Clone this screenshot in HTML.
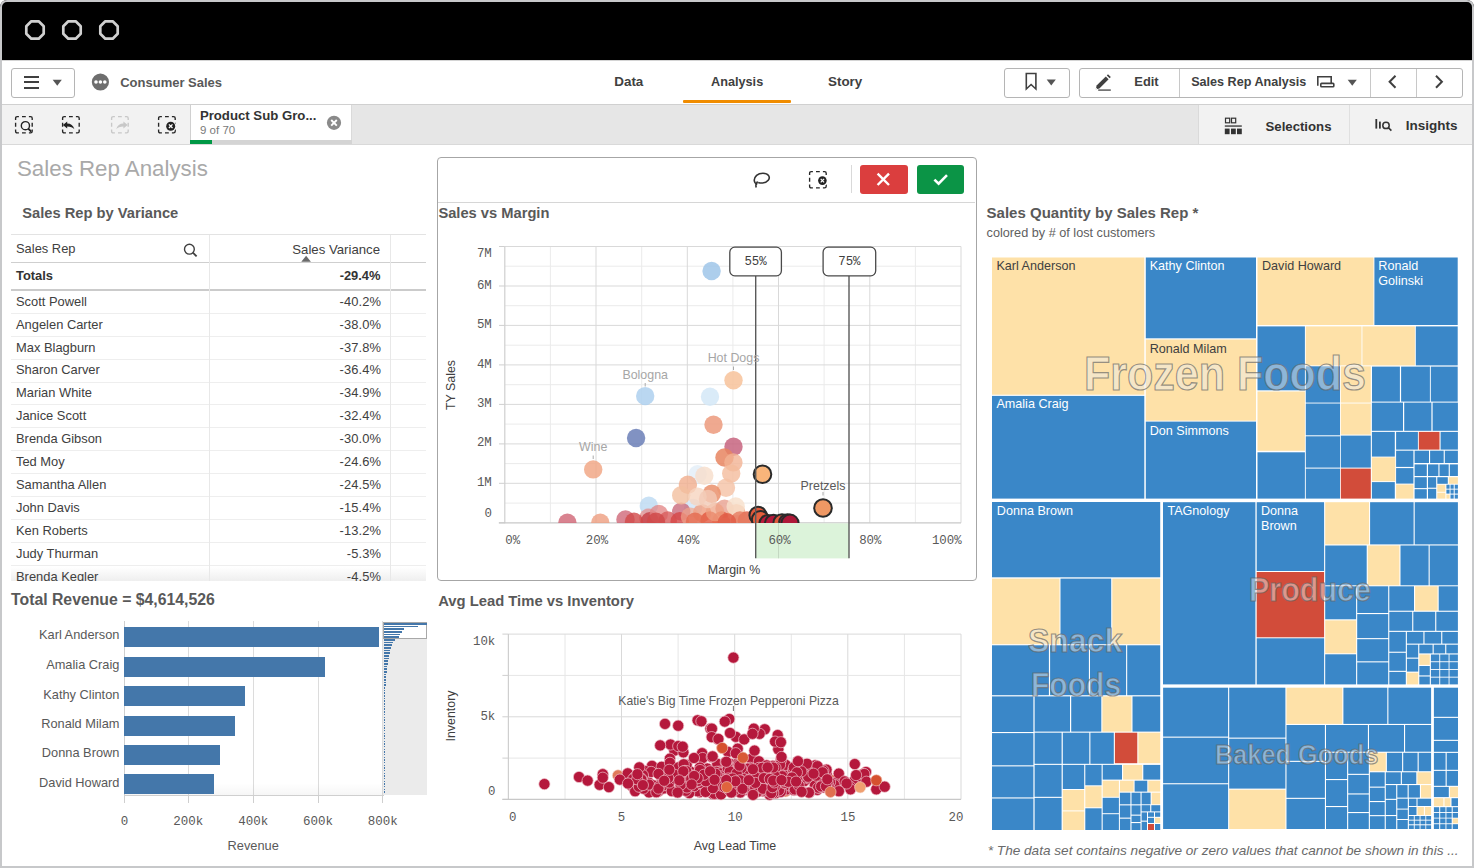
<!DOCTYPE html><html><head><meta charset="utf-8"><title>Sales Rep Analysis</title><style>
html,body{margin:0;padding:0;}
body{width:1474px;height:868px;overflow:hidden;background:#fff;position:relative;font-family:"Liberation Sans", sans-serif;}
.t{position:absolute;white-space:nowrap;line-height:1;font-family:"Liberation Sans", sans-serif;}
.r{position:absolute;box-sizing:border-box;}
svg{position:absolute;overflow:visible;}

</style></head><body>
<div class="r" style="left:0.0px;top:0.0px;width:1474.0px;height:60.0px;background:#000;border-radius:7px 7px 0 0;"></div>
<div class="r" style="left:0.0px;top:60.0px;width:1474.0px;height:1.0px;background:#d4d4d4;"></div>
<svg style="left:0;top:0" width="150" height="60"><polygon points="31.30,21.30 38.70,21.30 43.70,26.30 43.70,33.70 38.70,38.70 31.30,38.70 26.30,33.70 26.30,26.30" fill="none" stroke="#d0d0d0" stroke-width="2.7" stroke-linejoin="round"/><polygon points="68.30,21.30 75.70,21.30 80.70,26.30 80.70,33.70 75.70,38.70 68.30,38.70 63.30,33.70 63.30,26.30" fill="none" stroke="#d0d0d0" stroke-width="2.7" stroke-linejoin="round"/><polygon points="105.30,21.30 112.70,21.30 117.70,26.30 117.70,33.70 112.70,38.70 105.30,38.70 100.30,33.70 100.30,26.30" fill="none" stroke="#d0d0d0" stroke-width="2.7" stroke-linejoin="round"/></svg>
<div class="r" style="left:0.0px;top:61.0px;width:1474.0px;height:43.0px;background:#fff;"></div>
<div class="r" style="left:0.0px;top:104.0px;width:1474.0px;height:1.0px;background:#d0d0d0;"></div>
<div class="r" style="left:11.0px;top:68.0px;width:64.0px;height:29.5px;border:1px solid #b5b5b5;border-radius:3px;background:#fff;"></div>
<div class="r" style="left:23.6px;top:76.0px;width:15.6px;height:2.0px;background:#404040;"></div>
<div class="r" style="left:23.6px;top:81.4px;width:15.6px;height:2.0px;background:#404040;"></div>
<div class="r" style="left:23.6px;top:86.8px;width:15.6px;height:2.0px;background:#404040;"></div>
<svg style="left:52px;top:79px" width="12" height="8"><path d="M0.7 0.7 L9.8 0.7 L5.25 6.8 Z" fill="#555"/></svg>
<svg style="left:91px;top:73px" width="20" height="20"><circle cx="9.4" cy="9" r="8.6" fill="#6e6e6e"/><circle cx="5" cy="9" r="1.8" fill="#fff"/><circle cx="9.4" cy="9" r="1.8" fill="#fff"/><circle cx="13.8" cy="9" r="1.8" fill="#fff"/></svg>
<div class="t" style="left:120.2px;top:76.0px;font-size:13px;color:#595959;font-weight:bold;font-style:normal;">Consumer Sales</div>
<div class="t" style="left:614.3px;top:75.0px;font-size:13.4px;color:#404040;font-weight:bold;font-style:normal;">Data</div>
<div class="t" style="left:711.0px;top:75.5px;font-size:12.7px;color:#404040;font-weight:bold;font-style:normal;">Analysis</div>
<div class="t" style="left:828.0px;top:75.0px;font-size:13.4px;color:#404040;font-weight:bold;font-style:normal;">Story</div>
<div class="r" style="left:683.2px;top:100.0px;width:107.5px;height:2.8px;background:#f08c00;border-radius:1px;"></div>
<div class="r" style="left:1004.0px;top:68.0px;width:66.0px;height:29.5px;border:1px solid #b5b5b5;border-radius:3px;background:#fff;"></div>
<svg style="left:1024px;top:72px" width="16" height="20"><path d="M2.3 1.5 L11.9 1.5 L11.9 17 L7.1 12.5 L2.3 17 Z" fill="none" stroke="#404040" stroke-width="1.6" stroke-linejoin="miter"/></svg>
<svg style="left:1046px;top:79px" width="12" height="8"><path d="M0.7 0.5 L9.8 0.5 L5.25 6.5 Z" fill="#555"/></svg>
<div class="r" style="left:1079.0px;top:68.0px;width:383.5px;height:29.5px;border:1px solid #b5b5b5;border-radius:3px;background:#fff;"></div>
<div class="r" style="left:1179.4px;top:69.0px;width:1.0px;height:27.5px;background:#c8c8c8;"></div>
<div class="r" style="left:1369.6px;top:69.0px;width:1.0px;height:27.5px;background:#c8c8c8;"></div>
<div class="r" style="left:1416.4px;top:69.0px;width:1.0px;height:27.5px;background:#c8c8c8;"></div>
<svg style="left:1093px;top:73px" width="20" height="20"><path d="M2.6 16.4 L3.6 12.6 L12.8 3.4 L15.6 6.2 L6.4 15.4 Z" fill="#404040"/><path d="M13.8 2.4 L15 1.2 L17.8 4 L16.6 5.2 Z" fill="#404040"/><path d="M2.2 17 L3 14.6 L4.6 16.2 Z" fill="#fff"/><rect x="5.2" y="16.3" width="12.6" height="1.6" fill="#666"/></svg>
<div class="t" style="left:1134.3px;top:75.7px;font-size:12.9px;color:#404040;font-weight:bold;font-style:normal;">Edit</div>
<div class="t" style="left:1191.2px;top:75.9px;font-size:12.6px;color:#404040;font-weight:bold;font-style:normal;">Sales Rep Analysis</div>
<svg style="left:1316px;top:75px" width="20" height="14"><path d="M1.8 10.8 L1.8 1.8 L15.2 1.8 L15.2 8.6" fill="none" stroke="#404040" stroke-width="1.6"/><rect x="4.8" y="8.4" width="13" height="3.4" rx="0.8" fill="none" stroke="#404040" stroke-width="1.6"/></svg>
<svg style="left:1347px;top:79px" width="12" height="8"><path d="M0.7 0.7 L9.8 0.7 L5.25 6.8 Z" fill="#555"/></svg>
<svg style="left:1386px;top:74px" width="14" height="16"><path d="M9.5 1.8 L3.6 7.8 L9.5 13.8" fill="none" stroke="#404040" stroke-width="2"/></svg>
<svg style="left:1433px;top:74px" width="14" height="16"><path d="M3 1.8 L8.9 7.8 L3 13.8" fill="none" stroke="#404040" stroke-width="2"/></svg>
<div class="r" style="left:0.0px;top:105.0px;width:1474.0px;height:39.0px;background:#e6e6e6;"></div>
<div class="r" style="left:0.0px;top:105.0px;width:190.0px;height:39.0px;background:#f2f2f2;"></div>
<div class="r" style="left:190.0px;top:105.0px;width:162.0px;height:39.0px;background:#fff;border-left:1px solid #d0d0d0;border-right:1px solid #dadada;"></div>
<div class="r" style="left:1198.0px;top:105.0px;width:276.0px;height:39.0px;background:#f2f2f2;border-left:1px solid #dadada;"></div>
<div class="r" style="left:1349.0px;top:105.0px;width:1.0px;height:39.0px;background:#e0e0e0;"></div>
<div class="r" style="left:0.0px;top:144.0px;width:1474.0px;height:1.0px;background:#d9d9d9;"></div>
<svg style="left:14.2px;top:115px" width="20" height="20"><path d="M1.6 4.9 L1.6 3.2 Q1.6 1.6 3.2 1.6 L4.9 1.6 M14.9 1.6 L16.599999999999998 1.6 Q18.2 1.6 18.2 3.2 L18.2 4.9 M18.2 14.6 L18.2 16.299999999999997 Q18.2 17.9 16.599999999999998 17.9 L14.9 17.9 M4.9 17.9 L3.2 17.9 Q1.6 17.9 1.6 16.299999999999997 L1.6 14.6 M8.0 1.6 L11.8 1.6 M8.0 17.9 L11.8 17.9 M1.6 7.85 L1.6 11.65 M18.2 7.85 L18.2 11.65" fill="none" stroke="#262626" stroke-width="1.35"/><circle cx="11.4" cy="10.7" r="4.1" fill="none" stroke="#222" stroke-width="1.4"/><path d="M14.3 13.6 L17.2 16.6" stroke="#222" stroke-width="1.9"/></svg>
<svg style="left:61.2px;top:115px" width="20" height="20"><path d="M1.6 4.9 L1.6 3.2 Q1.6 1.6 3.2 1.6 L4.9 1.6 M14.9 1.6 L16.599999999999998 1.6 Q18.2 1.6 18.2 3.2 L18.2 4.9 M18.2 14.6 L18.2 16.299999999999997 Q18.2 17.9 16.599999999999998 17.9 L14.9 17.9 M4.9 17.9 L3.2 17.9 Q1.6 17.9 1.6 16.299999999999997 L1.6 14.6 M8.0 1.6 L11.8 1.6 M8.0 17.9 L11.8 17.9 M1.6 7.85 L1.6 11.65 M18.2 7.85 L18.2 11.65" fill="none" stroke="#262626" stroke-width="1.35"/><path d="M1.9 9.9 L6.2 6.4 L6.2 8.4 C9.8 8.4 12.4 10.4 13.4 14.2 C11.6 12.2 9.6 11.4 6.2 11.4 L6.2 13.4 Z" fill="#222"/></svg>
<svg style="left:109.5px;top:115px" width="20" height="20"><path d="M1.6 4.9 L1.6 3.2 Q1.6 1.6 3.2 1.6 L4.9 1.6 M14.9 1.6 L16.599999999999998 1.6 Q18.2 1.6 18.2 3.2 L18.2 4.9 M18.2 14.6 L18.2 16.299999999999997 Q18.2 17.9 16.599999999999998 17.9 L14.9 17.9 M4.9 17.9 L3.2 17.9 Q1.6 17.9 1.6 16.299999999999997 L1.6 14.6 M8.0 1.6 L11.8 1.6 M8.0 17.9 L11.8 17.9 M1.6 7.85 L1.6 11.65 M18.2 7.85 L18.2 11.65" fill="none" stroke="#c8c8c8" stroke-width="1.35"/><path d="M17.7 9.9 L13.4 6.4 L13.4 8.4 C9.8 8.4 7.2 10.4 6.2 14.2 C8 12.2 10 11.4 13.4 11.4 L13.4 13.4 Z" fill="#c8c8c8"/></svg>
<svg style="left:157px;top:115px" width="20" height="20"><path d="M1.6 4.9 L1.6 3.2 Q1.6 1.6 3.2 1.6 L4.9 1.6 M14.9 1.6 L16.599999999999998 1.6 Q18.2 1.6 18.2 3.2 L18.2 4.9 M18.2 14.6 L18.2 16.299999999999997 Q18.2 17.9 16.599999999999998 17.9 L14.9 17.9 M4.9 17.9 L3.2 17.9 Q1.6 17.9 1.6 16.299999999999997 L1.6 14.6 M8.0 1.6 L11.8 1.6 M8.0 17.9 L11.8 17.9 M1.6 7.85 L1.6 11.65 M18.2 7.85 L18.2 11.65" fill="none" stroke="#262626" stroke-width="1.35"/><circle cx="13.7" cy="11.2" r="5.6" fill="#f2f2f2"/><circle cx="13.7" cy="11.2" r="4.5" fill="#222"/><path d="M11.9 9.4 L15.5 13 M15.5 9.4 L11.9 13" stroke="#fff" stroke-width="1.3"/></svg>
<div class="t" style="left:199.9px;top:109.4px;font-size:13.2px;color:#333;font-weight:bold;font-style:normal;">Product Sub Gro...</div>
<div class="t" style="left:200.0px;top:125.4px;font-size:11.5px;color:#7a7a7a;font-weight:normal;font-style:normal;">9 of 70</div>
<svg style="left:326px;top:115px" width="16" height="16"><circle cx="8" cy="7.8" r="7.1" fill="#8a8a8a"/><path d="M5.2 5 L10.8 10.6 M10.8 5 L5.2 10.6" stroke="#fff" stroke-width="1.9"/></svg>
<div class="r" style="left:190.0px;top:140.0px;width:162.0px;height:4.0px;background:#d4d4d4;"></div>
<div class="r" style="left:190.0px;top:140.0px;width:22.0px;height:4.0px;background:#009845;"></div>
<svg style="left:1224px;top:117px" width="20" height="20"><rect x="1.5" y="1.2" width="4.2" height="4.6" fill="none" stroke="#333" stroke-width="1.2"/><rect x="7.5" y="1.2" width="4.2" height="4.6" fill="none" stroke="#333" stroke-width="1.2"/><rect x="0.8" y="8.4" width="17" height="1.3" fill="#333"/><rect x="0.8" y="11.6" width="4.8" height="5.6" fill="#333"/><rect x="7" y="11.6" width="4.8" height="5.6" fill="#333"/><rect x="13" y="11.6" width="4.8" height="5.6" fill="#333"/></svg>
<div class="t" style="left:1265.5px;top:119.7px;font-size:13.2px;color:#333;font-weight:bold;font-style:normal;">Selections</div>
<svg style="left:1374px;top:117px" width="20" height="16"><rect x="1.4" y="2" width="1.8" height="9.6" fill="#333"/><rect x="5" y="4.6" width="1.8" height="7" fill="#333"/><circle cx="12" cy="8.4" r="3.2" fill="none" stroke="#333" stroke-width="1.5"/><path d="M14.3 10.7 L17.4 13.6" stroke="#333" stroke-width="1.6"/></svg>
<div class="t" style="left:1405.8px;top:118.7px;font-size:13.5px;color:#333;font-weight:bold;font-style:normal;">Insights</div>
<div class="t" style="left:17.0px;top:158.3px;font-size:22.3px;color:#a9a9a9;font-weight:normal;font-style:normal;">Sales Rep Analysis</div>
<div class="t" style="left:22.3px;top:205.9px;font-size:14.7px;color:#595959;font-weight:bold;font-style:normal;">Sales Rep by Variance</div>
<div class="r" style="left:11.0px;top:234.0px;width:415.0px;height:1.0px;background:#e3e3e3;"></div>
<div class="t" style="left:16.0px;top:243.0px;font-size:12.9px;color:#404040;font-weight:normal;font-style:normal;">Sales Rep</div>
<svg style="left:182px;top:242px" width="18" height="18"><circle cx="7.4" cy="7.2" r="4.9" fill="none" stroke="#404040" stroke-width="1.4"/><path d="M10.9 10.7 L14.6 14.4" stroke="#404040" stroke-width="1.8"/></svg>
<div class="t" style="right:1094.0px;top:242.7px;font-size:13.2px;color:#404040;font-weight:normal;font-style:normal;">Sales Variance</div>
<svg style="left:301px;top:255px" width="12" height="8"><path d="M0.3 6.8 L9.9 6.8 L5.1 0.8 Z" fill="#6a6a6a"/></svg>
<div class="r" style="left:11.0px;top:262.0px;width:415.0px;height:1.0px;background:#cfcfcf;"></div>
<div class="t" style="left:16.0px;top:269.9px;font-size:12.9px;color:#333;font-weight:bold;font-style:normal;">Totals</div>
<div class="t" style="right:1093.5px;top:269.9px;font-size:12.9px;color:#333;font-weight:bold;font-style:normal;">-29.4%</div>
<div class="r" style="left:11.0px;top:289.2px;width:415.0px;height:1.6px;background:#cbcbcb;"></div>
<div class="r" style="left:11.0px;top:567.0px;width:415.0px;height:13.5px;background:linear-gradient(rgba(255,255,255,0),rgba(225,225,225,0.55));"></div>
<div style="position:absolute;left:0;top:0;width:1474px;height:580.5px;overflow:hidden;">
<div class="t" style="left:16.0px;top:295.6px;font-size:12.9px;color:#404040;font-weight:normal;font-style:normal;">Scott Powell</div>
<div class="t" style="right:1093.0px;top:295.6px;font-size:12.9px;color:#404040;font-weight:normal;font-style:normal;letter-spacing:0.1px;">-40.2%</div>
<div class="r" style="left:11.0px;top:312.6px;width:415.0px;height:1.0px;background:#eeeeee;"></div>
<div class="t" style="left:16.0px;top:318.5px;font-size:12.9px;color:#404040;font-weight:normal;font-style:normal;">Angelen Carter</div>
<div class="t" style="right:1093.0px;top:318.5px;font-size:12.9px;color:#404040;font-weight:normal;font-style:normal;letter-spacing:0.1px;">-38.0%</div>
<div class="r" style="left:11.0px;top:335.6px;width:415.0px;height:1.0px;background:#eeeeee;"></div>
<div class="t" style="left:16.0px;top:341.5px;font-size:12.9px;color:#404040;font-weight:normal;font-style:normal;">Max Blagburn</div>
<div class="t" style="right:1093.0px;top:341.5px;font-size:12.9px;color:#404040;font-weight:normal;font-style:normal;letter-spacing:0.1px;">-37.8%</div>
<div class="r" style="left:11.0px;top:358.5px;width:415.0px;height:1.0px;background:#eeeeee;"></div>
<div class="t" style="left:16.0px;top:364.4px;font-size:12.9px;color:#404040;font-weight:normal;font-style:normal;">Sharon Carver</div>
<div class="t" style="right:1093.0px;top:364.4px;font-size:12.9px;color:#404040;font-weight:normal;font-style:normal;letter-spacing:0.1px;">-36.4%</div>
<div class="r" style="left:11.0px;top:381.5px;width:415.0px;height:1.0px;background:#eeeeee;"></div>
<div class="t" style="left:16.0px;top:387.4px;font-size:12.9px;color:#404040;font-weight:normal;font-style:normal;">Marian White</div>
<div class="t" style="right:1093.0px;top:387.4px;font-size:12.9px;color:#404040;font-weight:normal;font-style:normal;letter-spacing:0.1px;">-34.9%</div>
<div class="r" style="left:11.0px;top:404.4px;width:415.0px;height:1.0px;background:#eeeeee;"></div>
<div class="t" style="left:16.0px;top:410.3px;font-size:12.9px;color:#404040;font-weight:normal;font-style:normal;">Janice Scott</div>
<div class="t" style="right:1093.0px;top:410.3px;font-size:12.9px;color:#404040;font-weight:normal;font-style:normal;letter-spacing:0.1px;">-32.4%</div>
<div class="r" style="left:11.0px;top:427.4px;width:415.0px;height:1.0px;background:#eeeeee;"></div>
<div class="t" style="left:16.0px;top:433.3px;font-size:12.9px;color:#404040;font-weight:normal;font-style:normal;">Brenda Gibson</div>
<div class="t" style="right:1093.0px;top:433.3px;font-size:12.9px;color:#404040;font-weight:normal;font-style:normal;letter-spacing:0.1px;">-30.0%</div>
<div class="r" style="left:11.0px;top:450.3px;width:415.0px;height:1.0px;background:#eeeeee;"></div>
<div class="t" style="left:16.0px;top:456.2px;font-size:12.9px;color:#404040;font-weight:normal;font-style:normal;">Ted Moy</div>
<div class="t" style="right:1093.0px;top:456.2px;font-size:12.9px;color:#404040;font-weight:normal;font-style:normal;letter-spacing:0.1px;">-24.6%</div>
<div class="r" style="left:11.0px;top:473.2px;width:415.0px;height:1.0px;background:#eeeeee;"></div>
<div class="t" style="left:16.0px;top:479.2px;font-size:12.9px;color:#404040;font-weight:normal;font-style:normal;">Samantha Allen</div>
<div class="t" style="right:1093.0px;top:479.2px;font-size:12.9px;color:#404040;font-weight:normal;font-style:normal;letter-spacing:0.1px;">-24.5%</div>
<div class="r" style="left:11.0px;top:496.2px;width:415.0px;height:1.0px;background:#eeeeee;"></div>
<div class="t" style="left:16.0px;top:502.1px;font-size:12.9px;color:#404040;font-weight:normal;font-style:normal;">John Davis</div>
<div class="t" style="right:1093.0px;top:502.1px;font-size:12.9px;color:#404040;font-weight:normal;font-style:normal;letter-spacing:0.1px;">-15.4%</div>
<div class="r" style="left:11.0px;top:519.1px;width:415.0px;height:1.0px;background:#eeeeee;"></div>
<div class="t" style="left:16.0px;top:525.1px;font-size:12.9px;color:#404040;font-weight:normal;font-style:normal;">Ken Roberts</div>
<div class="t" style="right:1093.0px;top:525.1px;font-size:12.9px;color:#404040;font-weight:normal;font-style:normal;letter-spacing:0.1px;">-13.2%</div>
<div class="r" style="left:11.0px;top:542.1px;width:415.0px;height:1.0px;background:#eeeeee;"></div>
<div class="t" style="left:16.0px;top:548.0px;font-size:12.9px;color:#404040;font-weight:normal;font-style:normal;">Judy Thurman</div>
<div class="t" style="right:1093.0px;top:548.0px;font-size:12.9px;color:#404040;font-weight:normal;font-style:normal;letter-spacing:0.1px;">-5.3%</div>
<div class="r" style="left:11.0px;top:565.1px;width:415.0px;height:1.0px;background:#eeeeee;"></div>
<div class="t" style="left:16.0px;top:571.0px;font-size:12.9px;color:#404040;font-weight:normal;font-style:normal;">Brenda Kegler</div>
<div class="t" style="right:1093.0px;top:571.0px;font-size:12.9px;color:#404040;font-weight:normal;font-style:normal;letter-spacing:0.1px;">-4.5%</div>
</div>
<div class="r" style="left:209.0px;top:235.0px;width:1.0px;height:346.0px;background:#e8e8e8;"></div>
<div class="r" style="left:390.0px;top:235.0px;width:1.0px;height:346.0px;background:#e8e8e8;"></div>
<div class="t" style="left:11.0px;top:592.0px;font-size:15.8px;color:#595959;font-weight:bold;font-style:normal;">Total Revenue = $4,614,526</div>
<div class="r" style="left:187.8px;top:621.0px;width:1.0px;height:174.0px;background:#dcdcdc;"></div>
<div class="r" style="left:252.7px;top:621.0px;width:1.0px;height:174.0px;background:#dcdcdc;"></div>
<div class="r" style="left:317.5px;top:621.0px;width:1.0px;height:174.0px;background:#dcdcdc;"></div>
<div class="r" style="left:382.3px;top:621.0px;width:1.0px;height:174.0px;background:#dcdcdc;"></div>
<div class="r" style="left:123.5px;top:621.0px;width:1.0px;height:180.0px;background:#cfcfcf;"></div>
<div class="r" style="left:124.0px;top:783.0px;width:259.0px;height:12.0px;background:linear-gradient(rgba(0,0,0,0),rgba(0,0,0,0.035));"></div>
<div class="r" style="left:123.5px;top:795.0px;width:260.0px;height:1.0px;background:#cfcfcf;"></div>
<div class="r" style="left:124.0px;top:627.1px;width:254.5px;height:19.8px;background:#4477aa;"></div>
<div class="t" style="right:1354.6px;top:629.3px;font-size:12.8px;color:#595959;font-weight:normal;font-style:normal;">Karl Anderson</div>
<div class="r" style="left:124.0px;top:656.9px;width:201.4px;height:19.8px;background:#4477aa;"></div>
<div class="t" style="right:1354.6px;top:659.1px;font-size:12.8px;color:#595959;font-weight:normal;font-style:normal;">Amalia Craig</div>
<div class="r" style="left:124.0px;top:686.3px;width:120.8px;height:19.8px;background:#4477aa;"></div>
<div class="t" style="right:1354.6px;top:688.5px;font-size:12.8px;color:#595959;font-weight:normal;font-style:normal;">Kathy Clinton</div>
<div class="r" style="left:124.0px;top:715.8px;width:111.3px;height:19.8px;background:#4477aa;"></div>
<div class="t" style="right:1354.6px;top:718.0px;font-size:12.8px;color:#595959;font-weight:normal;font-style:normal;">Ronald Milam</div>
<div class="r" style="left:124.0px;top:745.1px;width:95.5px;height:19.8px;background:#4477aa;"></div>
<div class="t" style="right:1354.6px;top:747.3px;font-size:12.8px;color:#595959;font-weight:normal;font-style:normal;">Donna Brown</div>
<div class="r" style="left:124.0px;top:774.4px;width:90.3px;height:19.8px;background:#4477aa;"></div>
<div class="t" style="right:1354.6px;top:776.6px;font-size:12.8px;color:#595959;font-weight:normal;font-style:normal;">David Howard</div>
<div class="t" style="left:-175.6px;width:600px;text-align:center;top:816.2px;font-size:12.5px;color:#595959;font-weight:normal;font-style:normal;font-family:'Liberation Mono',monospace;">0</div>
<div class="t" style="left:-111.7px;width:600px;text-align:center;top:816.2px;font-size:12.5px;color:#595959;font-weight:normal;font-style:normal;font-family:'Liberation Mono',monospace;">200k</div>
<div class="t" style="left:-46.8px;width:600px;text-align:center;top:816.2px;font-size:12.5px;color:#595959;font-weight:normal;font-style:normal;font-family:'Liberation Mono',monospace;">400k</div>
<div class="t" style="left:18.0px;width:600px;text-align:center;top:816.2px;font-size:12.5px;color:#595959;font-weight:normal;font-style:normal;font-family:'Liberation Mono',monospace;">600k</div>
<div class="t" style="left:82.8px;width:600px;text-align:center;top:816.2px;font-size:12.5px;color:#595959;font-weight:normal;font-style:normal;font-family:'Liberation Mono',monospace;">800k</div>
<div class="r" style="left:123.5px;top:795.0px;width:1.0px;height:8.0px;background:#cfcfcf;"></div>
<div class="r" style="left:187.8px;top:795.0px;width:1.0px;height:8.0px;background:#cfcfcf;"></div>
<div class="r" style="left:252.7px;top:795.0px;width:1.0px;height:8.0px;background:#cfcfcf;"></div>
<div class="r" style="left:317.5px;top:795.0px;width:1.0px;height:8.0px;background:#cfcfcf;"></div>
<div class="r" style="left:382.3px;top:795.0px;width:1.0px;height:8.0px;background:#cfcfcf;"></div>
<div class="t" style="left:-46.8px;width:600px;text-align:center;top:839.7px;font-size:12.8px;color:#595959;font-weight:normal;font-style:normal;">Revenue</div>
<div class="r" style="left:383.0px;top:622.0px;width:44.0px;height:173.0px;background:#ebebeb;"></div>
<div class="r" style="left:383.0px;top:622.0px;width:44.0px;height:17.0px;background:#fff;border:1px solid #a8a8a8;"></div>
<div class="r" style="left:383.6px;top:623.0px;width:43.0px;height:1.6px;background:#4477aa;"></div>
<div class="r" style="left:383.6px;top:625.7px;width:34.0px;height:1.6px;background:#4477aa;"></div>
<div class="r" style="left:383.6px;top:628.3px;width:20.4px;height:1.6px;background:#4477aa;"></div>
<div class="r" style="left:383.6px;top:631.0px;width:18.8px;height:1.6px;background:#4477aa;"></div>
<div class="r" style="left:383.6px;top:633.7px;width:16.1px;height:1.6px;background:#4477aa;"></div>
<div class="r" style="left:383.6px;top:636.4px;width:15.3px;height:1.6px;background:#4477aa;"></div>
<div class="r" style="left:383.6px;top:639.0px;width:11.5px;height:1.6px;background:#4477aa;"></div>
<div class="r" style="left:383.6px;top:641.7px;width:9.5px;height:1.6px;background:#4477aa;"></div>
<div class="r" style="left:383.6px;top:644.4px;width:8.0px;height:1.6px;background:#4477aa;"></div>
<div class="r" style="left:383.6px;top:647.0px;width:7.0px;height:1.6px;background:#4477aa;"></div>
<div class="r" style="left:383.6px;top:649.7px;width:6.5px;height:1.6px;background:#4477aa;"></div>
<div class="r" style="left:383.6px;top:652.4px;width:6.0px;height:1.6px;background:#4477aa;"></div>
<div class="r" style="left:383.6px;top:655.0px;width:5.5px;height:1.6px;background:#4477aa;"></div>
<div class="r" style="left:383.6px;top:657.7px;width:5.0px;height:1.6px;background:#4477aa;"></div>
<div class="r" style="left:383.6px;top:660.4px;width:4.5px;height:1.6px;background:#4477aa;"></div>
<div class="r" style="left:383.6px;top:663.0px;width:4.0px;height:1.6px;background:#4477aa;"></div>
<div class="r" style="left:383.6px;top:665.7px;width:3.6px;height:1.6px;background:#4477aa;"></div>
<div class="r" style="left:383.6px;top:668.4px;width:3.2px;height:1.6px;background:#4477aa;"></div>
<div class="r" style="left:383.6px;top:671.1px;width:3.0px;height:1.6px;background:#4477aa;"></div>
<div class="r" style="left:383.6px;top:673.7px;width:2.8px;height:1.6px;background:#4477aa;"></div>
<div class="r" style="left:383.6px;top:676.4px;width:2.6px;height:1.6px;background:#4477aa;"></div>
<div class="r" style="left:383.6px;top:679.1px;width:2.4px;height:1.6px;background:#4477aa;"></div>
<div class="r" style="left:383.6px;top:681.7px;width:2.2px;height:1.6px;background:#4477aa;"></div>
<div class="r" style="left:383.6px;top:684.4px;width:2.0px;height:1.6px;background:#4477aa;"></div>
<div class="r" style="left:383.6px;top:687.1px;width:1.9px;height:1.6px;background:#4477aa;"></div>
<div class="r" style="left:383.6px;top:689.8px;width:1.8px;height:1.6px;background:#4477aa;"></div>
<div class="r" style="left:383.6px;top:692.4px;width:1.7px;height:1.6px;background:#4477aa;"></div>
<div class="r" style="left:383.6px;top:695.1px;width:1.6px;height:1.6px;background:#4477aa;"></div>
<div class="r" style="left:383.6px;top:697.8px;width:1.5px;height:1.6px;background:#4477aa;"></div>
<div class="r" style="left:383.6px;top:700.4px;width:1.4px;height:1.6px;background:#4477aa;"></div>
<div class="r" style="left:383.6px;top:703.1px;width:1.3px;height:1.6px;background:#4477aa;"></div>
<div class="r" style="left:383.6px;top:705.8px;width:1.2px;height:1.6px;background:#4477aa;"></div>
<div class="r" style="left:383.6px;top:708.4px;width:1.1px;height:1.6px;background:#4477aa;"></div>
<div class="r" style="left:383.6px;top:711.1px;width:1.1px;height:1.6px;background:#4477aa;"></div>
<div class="r" style="left:383.6px;top:713.8px;width:1.0px;height:1.6px;background:#4477aa;"></div>
<div class="r" style="left:383.6px;top:716.5px;width:0.9px;height:1.6px;background:#4477aa;"></div>
<div class="r" style="left:383.6px;top:719.1px;width:0.9px;height:1.6px;background:#4477aa;"></div>
<div class="r" style="left:383.6px;top:721.8px;width:0.9px;height:1.6px;background:#4477aa;"></div>
<div class="r" style="left:383.6px;top:724.5px;width:0.8px;height:1.6px;background:#4477aa;"></div>
<div class="r" style="left:383.6px;top:727.1px;width:0.8px;height:1.6px;background:#4477aa;"></div>
<div class="r" style="left:383.6px;top:729.8px;width:0.8px;height:1.6px;background:#4477aa;"></div>
<div class="r" style="left:383.6px;top:732.5px;width:0.8px;height:1.6px;background:#4477aa;"></div>
<div class="r" style="left:383.6px;top:735.1px;width:0.8px;height:1.6px;background:#4477aa;"></div>
<div class="r" style="left:383.6px;top:737.8px;width:0.7px;height:1.6px;background:#4477aa;"></div>
<div class="r" style="left:383.6px;top:740.5px;width:0.7px;height:1.6px;background:#4477aa;"></div>
<div class="r" style="left:383.6px;top:743.1px;width:0.7px;height:1.6px;background:#4477aa;"></div>
<div class="r" style="left:383.6px;top:745.8px;width:0.7px;height:1.6px;background:#4477aa;"></div>
<div class="r" style="left:383.6px;top:748.5px;width:0.7px;height:1.6px;background:#4477aa;"></div>
<div class="r" style="left:383.6px;top:751.2px;width:0.6px;height:1.6px;background:#4477aa;"></div>
<div class="r" style="left:383.6px;top:753.8px;width:0.6px;height:1.6px;background:#4477aa;"></div>
<div class="r" style="left:383.6px;top:756.5px;width:0.6px;height:1.6px;background:#4477aa;"></div>
<div class="r" style="left:383.6px;top:759.2px;width:0.6px;height:1.6px;background:#4477aa;"></div>
<div class="r" style="left:383.6px;top:761.8px;width:0.6px;height:1.6px;background:#4477aa;"></div>
<div class="r" style="left:383.6px;top:764.5px;width:0.6px;height:1.6px;background:#4477aa;"></div>
<div class="r" style="left:383.6px;top:767.2px;width:0.6px;height:1.6px;background:#4477aa;"></div>
<div class="r" style="left:383.6px;top:769.9px;width:0.5px;height:1.6px;background:#4477aa;"></div>
<div class="r" style="left:383.6px;top:772.5px;width:0.5px;height:1.6px;background:#4477aa;"></div>
<div class="r" style="left:383.6px;top:775.2px;width:0.5px;height:1.6px;background:#4477aa;"></div>
<div class="r" style="left:383.6px;top:777.9px;width:0.5px;height:1.6px;background:#4477aa;"></div>
<div class="r" style="left:383.6px;top:780.5px;width:0.5px;height:1.6px;background:#4477aa;"></div>
<div class="r" style="left:383.6px;top:783.2px;width:0.5px;height:1.6px;background:#4477aa;"></div>
<div class="r" style="left:383.6px;top:785.9px;width:0.5px;height:1.6px;background:#4477aa;"></div>
<div class="r" style="left:383.6px;top:788.5px;width:0.5px;height:1.6px;background:#4477aa;"></div>
<div class="r" style="left:383.6px;top:791.2px;width:0.5px;height:1.6px;background:#4477aa;"></div>
<div class="r" style="left:437.0px;top:157.0px;width:539.5px;height:424.0px;border:1.3px solid #a6a6a6;border-radius:4px;background:#fff;"></div>
<div class="r" style="left:438.0px;top:201.8px;width:537.0px;height:1.0px;background:#d6d6d6;"></div>
<svg style="left:751px;top:169px" width="22" height="22"><path d="M6.2 15.4 C2.6 13.8 2.2 9.6 5.6 6.4 C8.8 3.6 15.4 3.4 17.6 6.6 C19.6 9.6 16.6 13.6 11.6 14 C9.8 14.1 8.2 13.8 7.2 13.4" fill="none" stroke="#333" stroke-width="1.6"/><path d="M6.6 12.6 C5 14.6 4.4 16.4 5.2 18.6" fill="none" stroke="#333" stroke-width="1.6"/></svg>
<svg style="left:807.5px;top:170px" width="20" height="20"><path d="M1.6 4.9 L1.6 3.2 Q1.6 1.6 3.2 1.6 L4.9 1.6 M14.9 1.6 L16.599999999999998 1.6 Q18.2 1.6 18.2 3.2 L18.2 4.9 M18.2 14.6 L18.2 16.299999999999997 Q18.2 17.9 16.599999999999998 17.9 L14.9 17.9 M4.9 17.9 L3.2 17.9 Q1.6 17.9 1.6 16.299999999999997 L1.6 14.6 M8.0 1.6 L11.8 1.6 M8.0 17.9 L11.8 17.9 M1.6 7.85 L1.6 11.65 M18.2 7.85 L18.2 11.65" fill="none" stroke="#262626" stroke-width="1.35"/><circle cx="14.4" cy="10.6" r="5.5" fill="#fff"/><circle cx="14.4" cy="10.6" r="4.3" fill="#222"/><path d="M12.7 8.9 L16.1 12.3 M16.1 8.9 L12.7 12.3" stroke="#fff" stroke-width="1.2"/></svg>
<div class="r" style="left:850.5px;top:165.0px;width:1.0px;height:28.0px;background:#d9d9d9;"></div>
<div class="r" style="left:860.2px;top:164.8px;width:47.4px;height:28.9px;background:#db3e3e;border-radius:3px;"></div>
<svg style="left:875px;top:171px" width="18" height="18"><path d="M2.6 2.6 L14 14 M14 2.6 L2.6 14" stroke="#fff" stroke-width="2.4"/></svg>
<div class="r" style="left:917.0px;top:164.8px;width:47.3px;height:28.9px;background:#0b9446;border-radius:3px;"></div>
<svg style="left:932px;top:172px" width="18" height="16"><path d="M2.4 7.6 L6.6 11.6 L15 3.2" fill="none" stroke="#fff" stroke-width="2.6"/></svg>
<div class="t" style="left:438.4px;top:205.8px;font-size:14.7px;color:#595959;font-weight:bold;font-style:normal;">Sales vs Margin</div>
<svg style="left:0;top:0" width="1474" height="868"><line x1="550.4" y1="246.5" x2="550.4" y2="522.8" stroke="#ebebeb" stroke-width="1"/><line x1="641.7" y1="246.5" x2="641.7" y2="522.8" stroke="#ebebeb" stroke-width="1"/><line x1="732.9" y1="246.5" x2="732.9" y2="522.8" stroke="#ebebeb" stroke-width="1"/><line x1="824.1" y1="246.5" x2="824.1" y2="522.8" stroke="#ebebeb" stroke-width="1"/><line x1="915.4" y1="246.5" x2="915.4" y2="522.8" stroke="#ebebeb" stroke-width="1"/><line x1="504.8" y1="503.1" x2="961.0" y2="503.1" stroke="#ebebeb" stroke-width="1"/><line x1="504.8" y1="463.6" x2="961.0" y2="463.6" stroke="#ebebeb" stroke-width="1"/><line x1="504.8" y1="424.1" x2="961.0" y2="424.1" stroke="#ebebeb" stroke-width="1"/><line x1="504.8" y1="384.7" x2="961.0" y2="384.7" stroke="#ebebeb" stroke-width="1"/><line x1="504.8" y1="345.2" x2="961.0" y2="345.2" stroke="#ebebeb" stroke-width="1"/><line x1="504.8" y1="305.7" x2="961.0" y2="305.7" stroke="#ebebeb" stroke-width="1"/><line x1="504.8" y1="266.2" x2="961.0" y2="266.2" stroke="#ebebeb" stroke-width="1"/><line x1="596.0" y1="246.5" x2="596.0" y2="522.8" stroke="#d9d9d9" stroke-width="1"/><line x1="687.3" y1="246.5" x2="687.3" y2="522.8" stroke="#d9d9d9" stroke-width="1"/><line x1="778.5" y1="246.5" x2="778.5" y2="522.8" stroke="#d9d9d9" stroke-width="1"/><line x1="869.8" y1="246.5" x2="869.8" y2="522.8" stroke="#d9d9d9" stroke-width="1"/><line x1="961.0" y1="246.5" x2="961.0" y2="522.8" stroke="#d9d9d9" stroke-width="1"/><line x1="504.8" y1="483.3" x2="961.0" y2="483.3" stroke="#d9d9d9" stroke-width="1"/><line x1="504.8" y1="443.9" x2="961.0" y2="443.9" stroke="#d9d9d9" stroke-width="1"/><line x1="504.8" y1="404.4" x2="961.0" y2="404.4" stroke="#d9d9d9" stroke-width="1"/><line x1="504.8" y1="364.9" x2="961.0" y2="364.9" stroke="#d9d9d9" stroke-width="1"/><line x1="504.8" y1="325.4" x2="961.0" y2="325.4" stroke="#d9d9d9" stroke-width="1"/><line x1="504.8" y1="286.0" x2="961.0" y2="286.0" stroke="#d9d9d9" stroke-width="1"/><line x1="504.8" y1="246.5" x2="961.0" y2="246.5" stroke="#d9d9d9" stroke-width="1"/><line x1="499" y1="522.8" x2="504.8" y2="522.8" stroke="#cfcfcf" stroke-width="1"/><line x1="499" y1="483.3" x2="504.8" y2="483.3" stroke="#cfcfcf" stroke-width="1"/><line x1="499" y1="443.9" x2="504.8" y2="443.9" stroke="#cfcfcf" stroke-width="1"/><line x1="499" y1="404.4" x2="504.8" y2="404.4" stroke="#cfcfcf" stroke-width="1"/><line x1="499" y1="364.9" x2="504.8" y2="364.9" stroke="#cfcfcf" stroke-width="1"/><line x1="499" y1="325.4" x2="504.8" y2="325.4" stroke="#cfcfcf" stroke-width="1"/><line x1="499" y1="286.0" x2="504.8" y2="286.0" stroke="#cfcfcf" stroke-width="1"/><line x1="499" y1="246.5" x2="504.8" y2="246.5" stroke="#cfcfcf" stroke-width="1"/><line x1="504.8" y1="246.5" x2="504.8" y2="523.3" stroke="#cfcfcf" stroke-width="1.2"/><line x1="498.8" y1="522.8" x2="961.0" y2="522.8" stroke="#c8c8c8" stroke-width="1.2"/><rect x="755.7" y="523.4" width="93.3" height="35" fill="#dcf3da"/><defs><clipPath id="c1"><rect x="505" y="240" width="460" height="283"/></clipPath></defs><g clip-path="url(#c1)"><circle cx="567.4" cy="522.8" r="9.2" fill="#cf6474" fill-opacity="0.8"/><circle cx="600.3" cy="522.8" r="9.2" fill="#ee9e80" fill-opacity="0.8"/><circle cx="625.5" cy="519.4" r="9.2" fill="#cf6878" fill-opacity="0.8"/><circle cx="648.8" cy="505.7" r="9.2" fill="#bcd9f2" fill-opacity="0.8"/><circle cx="693.1" cy="507.9" r="9.2" fill="#cfe4f6" fill-opacity="0.8"/><circle cx="648.4" cy="517.8" r="9.2" fill="#e39494" fill-opacity="0.8"/><circle cx="649.9" cy="521.1999999999999" r="9.2" fill="#c63c44" fill-opacity="0.8"/><circle cx="658.8" cy="513.9" r="9.2" fill="#e28282" fill-opacity="0.75"/><circle cx="667.8" cy="520.4" r="9.2" fill="#d85c5c" fill-opacity="0.8"/><circle cx="681.2" cy="511.6" r="9.2" fill="#c96a7c" fill-opacity="0.8"/><circle cx="679.7" cy="521.1999999999999" r="9.2" fill="#d64646" fill-opacity="0.8"/><circle cx="702.1" cy="513.1" r="9.2" fill="#ef9c7e" fill-opacity="0.8"/><circle cx="709.6" cy="520.4" r="9.2" fill="#e2583f" fill-opacity="0.8"/><circle cx="724.5" cy="508.7" r="9.2" fill="#e9a08e" fill-opacity="0.8"/><circle cx="721.5" cy="520.4" r="9.2" fill="#e6664b" fill-opacity="0.8"/><circle cx="736.4" cy="513.1" r="9.2" fill="#f1ad8e" fill-opacity="0.8"/><circle cx="746.9" cy="520.4" r="9.2" fill="#e2664c" fill-opacity="0.85"/><circle cx="735.7" cy="506.4" r="9.2" fill="#f7e0cb" fill-opacity="0.8"/><circle cx="690" cy="516.8" r="9.2" fill="#f0a48a" fill-opacity="0.7"/><circle cx="715" cy="512" r="9.2" fill="#ee9f80" fill-opacity="0.7"/><circle cx="740" cy="520.4" r="9.2" fill="#e67a60" fill-opacity="0.8"/><circle cx="656" cy="521.8" r="9.2" fill="#d04a4a" fill-opacity="0.85"/><circle cx="634" cy="521.8" r="9.2" fill="#d14848" fill-opacity="0.8"/><circle cx="695" cy="521.8" r="9.2" fill="#e46a50" fill-opacity="0.8"/><circle cx="727" cy="522.3" r="9.2" fill="#e05a44" fill-opacity="0.8"/><circle cx="711.6" cy="271" r="9.2" fill="#9fc5e9" fill-opacity="0.85"/><circle cx="645.2" cy="396.1" r="9.2" fill="#aed0ef" fill-opacity="0.85"/><circle cx="710" cy="396.8" r="9.2" fill="#d4e7f7" fill-opacity="0.85"/><circle cx="636.1" cy="438" r="9.2" fill="#6b7fb7" fill-opacity="0.85"/><circle cx="733.5" cy="380.3" r="9.2" fill="#f7c29a" fill-opacity="0.85"/><circle cx="713.5" cy="424.8" r="9.2" fill="#ec9a7c" fill-opacity="0.85"/><circle cx="733.5" cy="446.8" r="9.2" fill="#c7647f" fill-opacity="0.85"/><circle cx="593.2" cy="469.4" r="9.2" fill="#f1a887" fill-opacity="0.85"/><circle cx="724.5" cy="457.5" r="9.2" fill="#e88560" fill-opacity="0.85"/><circle cx="733.4" cy="462.4" r="9.2" fill="#f2b393" fill-opacity="0.8"/><circle cx="731.2" cy="473.6" r="9.2" fill="#f4bb9c" fill-opacity="0.8"/><circle cx="697.6" cy="474.3" r="9.2" fill="#e2eef8" fill-opacity="0.8"/><circle cx="704.3" cy="475.8" r="9.2" fill="#f6ddcb" fill-opacity="0.8"/><circle cx="687.9" cy="484.8" r="9.2" fill="#f1ae8d" fill-opacity="0.8"/><circle cx="726" cy="487.8" r="9.2" fill="#f5c2a5" fill-opacity="0.8"/><circle cx="681.2" cy="495.2" r="9.2" fill="#f3bf9f" fill-opacity="0.8"/><circle cx="711.8" cy="493.7" r="9.2" fill="#ea916c" fill-opacity="0.85"/><circle cx="697.6" cy="496.7" r="9.2" fill="#f6d4bf" fill-opacity="0.8"/><circle cx="708" cy="499" r="9.2" fill="#f2cab6" fill-opacity="0.8"/><circle cx="758" cy="515.3" r="8.6" fill="#e0583a" stroke="#2a2a2a" stroke-width="2"/><circle cx="760.5" cy="519.6" r="8.6" fill="#e45e3c" stroke="#2a2a2a" stroke-width="2"/><circle cx="768" cy="523.5" r="8.6" fill="#b91a3a" stroke="#2a2a2a" stroke-width="2"/><circle cx="773.5" cy="523.3" r="8.6" fill="#b4173a" stroke="#2a2a2a" stroke-width="2"/><circle cx="782" cy="522.8" r="8.6" fill="#df583b" stroke="#2a2a2a" stroke-width="2"/><circle cx="787.5" cy="522.8" r="8.6" fill="#ae1838" stroke="#2a2a2a" stroke-width="2"/><circle cx="790" cy="523.2" r="8.6" fill="#ae1838" stroke="#2a2a2a" stroke-width="2"/></g><circle cx="762.5" cy="474.3" r="8.8" fill="#f8b47a" stroke="#2a2a2a" stroke-width="2"/><circle cx="823" cy="508" r="8.8" fill="#ef9864" stroke="#2a2a2a" stroke-width="2"/><line x1="778.5" y1="522.8" x2="778.5" y2="558.3" stroke="#c4d8c2" stroke-width="1"/><line x1="755.7" y1="276" x2="755.7" y2="558.3" stroke="#5a5a5a" stroke-width="1.4"/><line x1="849" y1="276" x2="849" y2="558.3" stroke="#5a5a5a" stroke-width="1.4"/><rect x="729.8" y="247.2" width="51.6" height="28.6" rx="5" fill="#fff" stroke="#4a4a4a" stroke-width="1.3"/><rect x="823.1" y="247.2" width="52.6" height="28.6" rx="5" fill="#fff" stroke="#4a4a4a" stroke-width="1.3"/><line x1="645.2" y1="383" x2="645.2" y2="386.5" stroke="#aaa" stroke-width="1"/><line x1="733.5" y1="366.5" x2="733.5" y2="370.0" stroke="#aaa" stroke-width="1"/><line x1="593.2" y1="455.5" x2="593.2" y2="459.0" stroke="#aaa" stroke-width="1"/><line x1="823" y1="492" x2="823" y2="495.5" stroke="#aaa" stroke-width="1"/></svg>
<div class="t" style="left:455.6px;width:600px;text-align:center;top:256.1px;font-size:12.4px;color:#404040;font-weight:normal;font-style:normal;font-family:'Liberation Mono',monospace;">55%</div>
<div class="t" style="left:549.4px;width:600px;text-align:center;top:256.1px;font-size:12.4px;color:#404040;font-weight:normal;font-style:normal;font-family:'Liberation Mono',monospace;">75%</div>
<div class="t" style="left:345.2px;width:600px;text-align:center;top:368.5px;font-size:12.4px;color:#a6a6a6;font-weight:normal;font-style:normal;">Bologna</div>
<div class="t" style="left:433.5px;width:600px;text-align:center;top:352.1px;font-size:12.4px;color:#a6a6a6;font-weight:normal;font-style:normal;">Hot Dogs</div>
<div class="t" style="left:293.2px;width:600px;text-align:center;top:441.1px;font-size:12.4px;color:#a6a6a6;font-weight:normal;font-style:normal;">Wine</div>
<div class="t" style="left:523.0px;width:600px;text-align:center;top:480.1px;font-size:12.4px;color:#595959;font-weight:normal;font-style:normal;">Pretzels</div>
<div class="t" style="right:982.2px;top:247.8px;font-size:12.4px;color:#595959;font-weight:normal;font-style:normal;font-family:'Liberation Mono',monospace;">7M</div>
<div class="t" style="right:982.2px;top:279.9px;font-size:12.4px;color:#595959;font-weight:normal;font-style:normal;font-family:'Liberation Mono',monospace;">6M</div>
<div class="t" style="right:982.2px;top:319.4px;font-size:12.4px;color:#595959;font-weight:normal;font-style:normal;font-family:'Liberation Mono',monospace;">5M</div>
<div class="t" style="right:982.2px;top:358.9px;font-size:12.4px;color:#595959;font-weight:normal;font-style:normal;font-family:'Liberation Mono',monospace;">4M</div>
<div class="t" style="right:982.2px;top:398.1px;font-size:12.4px;color:#595959;font-weight:normal;font-style:normal;font-family:'Liberation Mono',monospace;">3M</div>
<div class="t" style="right:982.2px;top:437.3px;font-size:12.4px;color:#595959;font-weight:normal;font-style:normal;font-family:'Liberation Mono',monospace;">2M</div>
<div class="t" style="right:982.2px;top:476.8px;font-size:12.4px;color:#595959;font-weight:normal;font-style:normal;font-family:'Liberation Mono',monospace;">1M</div>
<div class="t" style="right:982.2px;top:508.2px;font-size:12.4px;color:#595959;font-weight:normal;font-style:normal;font-family:'Liberation Mono',monospace;">0</div>
<div class="t" style="left:212.8px;width:600px;text-align:center;top:535.3px;font-size:12.4px;color:#595959;font-weight:normal;font-style:normal;font-family:'Liberation Mono',monospace;">0%</div>
<div class="t" style="left:297.0px;width:600px;text-align:center;top:535.3px;font-size:12.4px;color:#595959;font-weight:normal;font-style:normal;font-family:'Liberation Mono',monospace;">20%</div>
<div class="t" style="left:388.2px;width:600px;text-align:center;top:535.3px;font-size:12.4px;color:#595959;font-weight:normal;font-style:normal;font-family:'Liberation Mono',monospace;">40%</div>
<div class="t" style="left:479.6px;width:600px;text-align:center;top:535.3px;font-size:12.4px;color:#595959;font-weight:normal;font-style:normal;font-family:'Liberation Mono',monospace;">60%</div>
<div class="t" style="left:570.3px;width:600px;text-align:center;top:535.3px;font-size:12.4px;color:#595959;font-weight:normal;font-style:normal;font-family:'Liberation Mono',monospace;">80%</div>
<div class="t" style="left:646.8px;width:600px;text-align:center;top:535.3px;font-size:12.4px;color:#595959;font-weight:normal;font-style:normal;font-family:'Liberation Mono',monospace;">100%</div>
<div class="t" style="left:434.0px;width:600px;text-align:center;top:563.5px;font-size:12.4px;color:#404040;font-weight:normal;font-style:normal;">Margin %</div>
<div class="t" style="left:410.5px;top:377.8px;width:80px;text-align:center;font-size:12.4px;line-height:14px;color:#404040;transform:rotate(-90deg);">TY Sales</div>
<div class="t" style="left:438.2px;top:593.7px;font-size:14.8px;color:#595959;font-weight:bold;font-style:normal;">Avg Lead Time vs Inventory</div>
<svg style="left:0;top:0" width="1474" height="868"><line x1="565.0" y1="634.1" x2="565.0" y2="799.4" stroke="#e6e6e6" stroke-width="1"/><line x1="621.5" y1="634.1" x2="621.5" y2="799.4" stroke="#d9d9d9" stroke-width="1"/><line x1="678.1" y1="634.1" x2="678.1" y2="799.4" stroke="#e6e6e6" stroke-width="1"/><line x1="734.7" y1="634.1" x2="734.7" y2="799.4" stroke="#d9d9d9" stroke-width="1"/><line x1="791.3" y1="634.1" x2="791.3" y2="799.4" stroke="#e6e6e6" stroke-width="1"/><line x1="847.8" y1="634.1" x2="847.8" y2="799.4" stroke="#d9d9d9" stroke-width="1"/><line x1="904.4" y1="634.1" x2="904.4" y2="799.4" stroke="#e6e6e6" stroke-width="1"/><line x1="961.0" y1="634.1" x2="961.0" y2="799.4" stroke="#d9d9d9" stroke-width="1"/><line x1="508.4" y1="758.1" x2="961.0" y2="758.1" stroke="#e6e6e6" stroke-width="1"/><line x1="508.4" y1="716.8" x2="961.0" y2="716.8" stroke="#d9d9d9" stroke-width="1"/><line x1="508.4" y1="675.4" x2="961.0" y2="675.4" stroke="#e6e6e6" stroke-width="1"/><line x1="508.4" y1="634.1" x2="961.0" y2="634.1" stroke="#d9d9d9" stroke-width="1"/><line x1="508.4" y1="634.1" x2="508.4" y2="799.4" stroke="#cfcfcf" stroke-width="1.2"/><line x1="502.4" y1="799.4" x2="508.4" y2="799.4" stroke="#cfcfcf" stroke-width="1"/><line x1="502.4" y1="758.1" x2="508.4" y2="758.1" stroke="#cfcfcf" stroke-width="1"/><line x1="502.4" y1="716.8" x2="508.4" y2="716.8" stroke="#cfcfcf" stroke-width="1"/><line x1="502.4" y1="675.4" x2="508.4" y2="675.4" stroke="#cfcfcf" stroke-width="1"/><line x1="502.4" y1="634.1" x2="508.4" y2="634.1" stroke="#cfcfcf" stroke-width="1"/><line x1="502.4" y1="799.4" x2="961.0" y2="799.4" stroke="#c8c8c8" stroke-width="1.2"/><circle cx="722.2" cy="748.0" r="5.6" fill="#d6512f" stroke="#f5d7cc" stroke-width="0.6"/><circle cx="742.9" cy="757.7" r="5.6" fill="#d85a36" stroke="#f5d7cc" stroke-width="0.6"/><circle cx="876.3" cy="780.3" r="5.6" fill="#d6512f" stroke="#f5d7cc" stroke-width="0.6"/><circle cx="830.5" cy="791.9" r="5.6" fill="#e07050" stroke="#f5d7cc" stroke-width="0.6"/><circle cx="832.5" cy="780.3" r="5.6" fill="#e0643e" stroke="#f5d7cc" stroke-width="0.6"/><circle cx="822.1" cy="775.7" r="5.6" fill="#e06a44" stroke="#f5d7cc" stroke-width="0.6"/><circle cx="726.8" cy="787.1" r="5.6" fill="#e0643e" stroke="#f5d7cc" stroke-width="0.6"/><circle cx="705.5" cy="779.2" r="5.6" fill="#e07a5a" stroke="#f5d7cc" stroke-width="0.6"/><circle cx="792.0" cy="780.6" r="5.6" fill="#e07a5a" stroke="#f5d7cc" stroke-width="0.6"/><circle cx="771.2" cy="777.7" r="5.6" fill="#e07a5a" stroke="#f5d7cc" stroke-width="0.6"/><circle cx="812.6" cy="775.7" r="5.6" fill="#e07a5a" stroke="#f5d7cc" stroke-width="0.6"/><circle cx="717.5" cy="783.3" r="5.6" fill="#e07a5a" stroke="#f5d7cc" stroke-width="0.6"/><circle cx="748.2" cy="776.3" r="5.6" fill="#e07a5a" stroke="#f5d7cc" stroke-width="0.6"/><circle cx="716.2" cy="776.5" r="5.6" fill="#e07a5a" stroke="#f5d7cc" stroke-width="0.6"/><circle cx="776.2" cy="780.1" r="5.6" fill="#e07a5a" stroke="#f5d7cc" stroke-width="0.6"/><circle cx="684.5" cy="780.6" r="5.6" fill="#e07a5a" stroke="#f5d7cc" stroke-width="0.6"/><circle cx="754.0" cy="772.0" r="5.6" fill="#e07a5a" stroke="#f5d7cc" stroke-width="0.6"/><circle cx="783.6" cy="776.3" r="5.6" fill="#e07a5a" stroke="#f5d7cc" stroke-width="0.6"/><circle cx="728.2" cy="782.8" r="5.6" fill="#e07a5a" stroke="#f5d7cc" stroke-width="0.6"/><circle cx="811.0" cy="773.9" r="5.6" fill="#e07a5a" stroke="#f5d7cc" stroke-width="0.6"/><circle cx="766.9" cy="772.7" r="5.6" fill="#e07a5a" stroke="#f5d7cc" stroke-width="0.6"/><circle cx="860.7" cy="775.0" r="5.6" fill="#e07a5a" stroke="#f5d7cc" stroke-width="0.6"/><circle cx="804.7" cy="774.1" r="5.6" fill="#e07a5a" stroke="#f5d7cc" stroke-width="0.6"/><circle cx="785.6" cy="791.3" r="5.6" fill="#e07a5a" stroke="#f5d7cc" stroke-width="0.6"/><circle cx="618.0" cy="775.4" r="5.6" fill="#e07a5a" stroke="#f5d7cc" stroke-width="0.6"/><circle cx="770.0" cy="777.4" r="5.6" fill="#e07a5a" stroke="#f5d7cc" stroke-width="0.6"/><circle cx="711.6" cy="790.9" r="5.6" fill="#e07a5a" stroke="#f5d7cc" stroke-width="0.6"/><circle cx="749.0" cy="768.1" r="5.6" fill="#e07a5a" stroke="#f5d7cc" stroke-width="0.6"/><circle cx="787.7" cy="767.7" r="5.6" fill="#e07a5a" stroke="#f5d7cc" stroke-width="0.6"/><circle cx="802.5" cy="774.5" r="5.6" fill="#e07a5a" stroke="#f5d7cc" stroke-width="0.6"/><circle cx="752.2" cy="785.6" r="5.6" fill="#e07a5a" stroke="#f5d7cc" stroke-width="0.6"/><circle cx="750.9" cy="769.7" r="5.6" fill="#e07a5a" stroke="#f5d7cc" stroke-width="0.6"/><circle cx="817.3" cy="789.9" r="5.6" fill="#b5183c" stroke="#efc3cc" stroke-width="0.7"/><circle cx="742.6" cy="772.8" r="5.6" fill="#b5183c" stroke="#efc3cc" stroke-width="0.7"/><circle cx="735.8" cy="736.8" r="5.6" fill="#b5183c" stroke="#efc3cc" stroke-width="0.7"/><circle cx="746.2" cy="769.3" r="5.6" fill="#b5183c" stroke="#efc3cc" stroke-width="0.7"/><circle cx="731.5" cy="781.3" r="5.6" fill="#b5183c" stroke="#efc3cc" stroke-width="0.7"/><circle cx="599.6" cy="784.8" r="5.6" fill="#b5183c" stroke="#efc3cc" stroke-width="0.7"/><circle cx="764.3" cy="777.3" r="5.6" fill="#b5183c" stroke="#efc3cc" stroke-width="0.7"/><circle cx="714.8" cy="790.7" r="5.6" fill="#b5183c" stroke="#efc3cc" stroke-width="0.7"/><circle cx="730.6" cy="773.4" r="5.6" fill="#b5183c" stroke="#efc3cc" stroke-width="0.7"/><circle cx="735.5" cy="776.3" r="5.6" fill="#b5183c" stroke="#efc3cc" stroke-width="0.7"/><circle cx="639.0" cy="784.4" r="5.6" fill="#b5183c" stroke="#efc3cc" stroke-width="0.7"/><circle cx="579.0" cy="777.0" r="5.6" fill="#b5183c" stroke="#efc3cc" stroke-width="0.7"/><circle cx="631.6" cy="785.7" r="5.6" fill="#b5183c" stroke="#efc3cc" stroke-width="0.7"/><circle cx="815.1" cy="783.3" r="5.6" fill="#b5183c" stroke="#efc3cc" stroke-width="0.7"/><circle cx="769.6" cy="794.7" r="5.6" fill="#b5183c" stroke="#efc3cc" stroke-width="0.7"/><circle cx="661.8" cy="780.5" r="5.6" fill="#b5183c" stroke="#efc3cc" stroke-width="0.7"/><circle cx="811.0" cy="769.9" r="5.6" fill="#b5183c" stroke="#efc3cc" stroke-width="0.7"/><circle cx="674.4" cy="750.6" r="5.6" fill="#b5183c" stroke="#efc3cc" stroke-width="0.7"/><circle cx="797.3" cy="780.2" r="5.6" fill="#b5183c" stroke="#efc3cc" stroke-width="0.7"/><circle cx="809.5" cy="776.3" r="5.6" fill="#b5183c" stroke="#efc3cc" stroke-width="0.7"/><circle cx="719.9" cy="765.1" r="5.6" fill="#b5183c" stroke="#efc3cc" stroke-width="0.7"/><circle cx="699.3" cy="775.9" r="5.6" fill="#b5183c" stroke="#efc3cc" stroke-width="0.7"/><circle cx="746.5" cy="789.7" r="5.6" fill="#b5183c" stroke="#efc3cc" stroke-width="0.7"/><circle cx="745.4" cy="786.8" r="5.6" fill="#b5183c" stroke="#efc3cc" stroke-width="0.7"/><circle cx="714.0" cy="772.7" r="5.6" fill="#b5183c" stroke="#efc3cc" stroke-width="0.7"/><circle cx="717.6" cy="783.9" r="5.6" fill="#b5183c" stroke="#efc3cc" stroke-width="0.7"/><circle cx="689.9" cy="771.3" r="5.6" fill="#b5183c" stroke="#efc3cc" stroke-width="0.7"/><circle cx="729.6" cy="776.7" r="5.6" fill="#b5183c" stroke="#efc3cc" stroke-width="0.7"/><circle cx="795.8" cy="766.7" r="5.6" fill="#b5183c" stroke="#efc3cc" stroke-width="0.7"/><circle cx="720.0" cy="768.0" r="5.6" fill="#b5183c" stroke="#efc3cc" stroke-width="0.7"/><circle cx="772.0" cy="774.4" r="5.6" fill="#b5183c" stroke="#efc3cc" stroke-width="0.7"/><circle cx="729.5" cy="774.9" r="5.6" fill="#b5183c" stroke="#efc3cc" stroke-width="0.7"/><circle cx="855.0" cy="779.6" r="5.6" fill="#b5183c" stroke="#efc3cc" stroke-width="0.7"/><circle cx="730.4" cy="765.4" r="5.6" fill="#b5183c" stroke="#efc3cc" stroke-width="0.7"/><circle cx="742.3" cy="783.0" r="5.6" fill="#b5183c" stroke="#efc3cc" stroke-width="0.7"/><circle cx="714.7" cy="786.6" r="5.6" fill="#b5183c" stroke="#efc3cc" stroke-width="0.7"/><circle cx="689.0" cy="779.3" r="5.6" fill="#b5183c" stroke="#efc3cc" stroke-width="0.7"/><circle cx="752.8" cy="782.3" r="5.6" fill="#b5183c" stroke="#efc3cc" stroke-width="0.7"/><circle cx="720.1" cy="768.7" r="5.6" fill="#b5183c" stroke="#efc3cc" stroke-width="0.7"/><circle cx="630.8" cy="783.5" r="5.6" fill="#b5183c" stroke="#efc3cc" stroke-width="0.7"/><circle cx="738.1" cy="772.6" r="5.6" fill="#b5183c" stroke="#efc3cc" stroke-width="0.7"/><circle cx="730.8" cy="764.2" r="5.6" fill="#b5183c" stroke="#efc3cc" stroke-width="0.7"/><circle cx="751.2" cy="759.0" r="5.6" fill="#b5183c" stroke="#efc3cc" stroke-width="0.7"/><circle cx="768.7" cy="777.9" r="5.6" fill="#b5183c" stroke="#efc3cc" stroke-width="0.7"/><circle cx="670.5" cy="744.5" r="5.6" fill="#b5183c" stroke="#efc3cc" stroke-width="0.7"/><circle cx="799.3" cy="783.8" r="5.6" fill="#b5183c" stroke="#efc3cc" stroke-width="0.7"/><circle cx="738.0" cy="782.1" r="5.6" fill="#b5183c" stroke="#efc3cc" stroke-width="0.7"/><circle cx="776.7" cy="780.7" r="5.6" fill="#b5183c" stroke="#efc3cc" stroke-width="0.7"/><circle cx="726.5" cy="775.7" r="5.6" fill="#b5183c" stroke="#efc3cc" stroke-width="0.7"/><circle cx="677.9" cy="768.9" r="5.6" fill="#b5183c" stroke="#efc3cc" stroke-width="0.7"/><circle cx="731.8" cy="770.4" r="5.6" fill="#b5183c" stroke="#efc3cc" stroke-width="0.7"/><circle cx="718.7" cy="784.5" r="5.6" fill="#b5183c" stroke="#efc3cc" stroke-width="0.7"/><circle cx="757.3" cy="785.7" r="5.6" fill="#b5183c" stroke="#efc3cc" stroke-width="0.7"/><circle cx="860.9" cy="776.6" r="5.6" fill="#b5183c" stroke="#efc3cc" stroke-width="0.7"/><circle cx="823.7" cy="774.0" r="5.6" fill="#b5183c" stroke="#efc3cc" stroke-width="0.7"/><circle cx="608.9" cy="787.1" r="5.6" fill="#b5183c" stroke="#efc3cc" stroke-width="0.7"/><circle cx="728.0" cy="751.9" r="5.6" fill="#b5183c" stroke="#efc3cc" stroke-width="0.7"/><circle cx="747.9" cy="783.3" r="5.6" fill="#b5183c" stroke="#efc3cc" stroke-width="0.7"/><circle cx="735.8" cy="779.0" r="5.6" fill="#b5183c" stroke="#efc3cc" stroke-width="0.7"/><circle cx="681.6" cy="780.8" r="5.6" fill="#b5183c" stroke="#efc3cc" stroke-width="0.7"/><circle cx="790.2" cy="784.0" r="5.6" fill="#b5183c" stroke="#efc3cc" stroke-width="0.7"/><circle cx="711.2" cy="780.1" r="5.6" fill="#b5183c" stroke="#efc3cc" stroke-width="0.7"/><circle cx="783.8" cy="765.4" r="5.6" fill="#b5183c" stroke="#efc3cc" stroke-width="0.7"/><circle cx="760.7" cy="780.8" r="5.6" fill="#b5183c" stroke="#efc3cc" stroke-width="0.7"/><circle cx="700.6" cy="779.5" r="5.6" fill="#b5183c" stroke="#efc3cc" stroke-width="0.7"/><circle cx="787.3" cy="789.3" r="5.6" fill="#b5183c" stroke="#efc3cc" stroke-width="0.7"/><circle cx="667.1" cy="774.0" r="5.6" fill="#b5183c" stroke="#efc3cc" stroke-width="0.7"/><circle cx="702.1" cy="753.2" r="5.6" fill="#b5183c" stroke="#efc3cc" stroke-width="0.7"/><circle cx="794.2" cy="779.2" r="5.6" fill="#b5183c" stroke="#efc3cc" stroke-width="0.7"/><circle cx="786.2" cy="777.0" r="5.6" fill="#b5183c" stroke="#efc3cc" stroke-width="0.7"/><circle cx="722.2" cy="785.6" r="5.6" fill="#b5183c" stroke="#efc3cc" stroke-width="0.7"/><circle cx="738.9" cy="785.4" r="5.6" fill="#b5183c" stroke="#efc3cc" stroke-width="0.7"/><circle cx="815.1" cy="765.4" r="5.6" fill="#b5183c" stroke="#efc3cc" stroke-width="0.7"/><circle cx="769.5" cy="778.6" r="5.6" fill="#b5183c" stroke="#efc3cc" stroke-width="0.7"/><circle cx="767.2" cy="775.9" r="5.6" fill="#b5183c" stroke="#efc3cc" stroke-width="0.7"/><circle cx="680.0" cy="789.9" r="5.6" fill="#b5183c" stroke="#efc3cc" stroke-width="0.7"/><circle cx="835.0" cy="782.9" r="5.6" fill="#b5183c" stroke="#efc3cc" stroke-width="0.7"/><circle cx="717.5" cy="739.0" r="5.6" fill="#b5183c" stroke="#efc3cc" stroke-width="0.7"/><circle cx="691.3" cy="776.4" r="5.6" fill="#b5183c" stroke="#efc3cc" stroke-width="0.7"/><circle cx="756.8" cy="788.6" r="5.6" fill="#b5183c" stroke="#efc3cc" stroke-width="0.7"/><circle cx="741.9" cy="779.5" r="5.6" fill="#b5183c" stroke="#efc3cc" stroke-width="0.7"/><circle cx="834.7" cy="785.1" r="5.6" fill="#b5183c" stroke="#efc3cc" stroke-width="0.7"/><circle cx="740.9" cy="780.3" r="5.6" fill="#b5183c" stroke="#efc3cc" stroke-width="0.7"/><circle cx="544.4" cy="784.1" r="5.6" fill="#b5183c" stroke="#efc3cc" stroke-width="0.7"/><circle cx="866.0" cy="772.0" r="5.6" fill="#b5183c" stroke="#efc3cc" stroke-width="0.7"/><circle cx="765.7" cy="777.9" r="5.6" fill="#b5183c" stroke="#efc3cc" stroke-width="0.7"/><circle cx="699.8" cy="792.1" r="5.6" fill="#b5183c" stroke="#efc3cc" stroke-width="0.7"/><circle cx="708.5" cy="782.6" r="5.6" fill="#b5183c" stroke="#efc3cc" stroke-width="0.7"/><circle cx="791.0" cy="779.0" r="5.6" fill="#b5183c" stroke="#efc3cc" stroke-width="0.7"/><circle cx="771.0" cy="785.8" r="5.6" fill="#b5183c" stroke="#efc3cc" stroke-width="0.7"/><circle cx="682.2" cy="778.1" r="5.6" fill="#b5183c" stroke="#efc3cc" stroke-width="0.7"/><circle cx="766.5" cy="770.9" r="5.6" fill="#b5183c" stroke="#efc3cc" stroke-width="0.7"/><circle cx="740.8" cy="773.9" r="5.6" fill="#b5183c" stroke="#efc3cc" stroke-width="0.7"/><circle cx="658.3" cy="769.3" r="5.6" fill="#b5183c" stroke="#efc3cc" stroke-width="0.7"/><circle cx="781.4" cy="783.7" r="5.6" fill="#b5183c" stroke="#efc3cc" stroke-width="0.7"/><circle cx="738.5" cy="774.6" r="5.6" fill="#b5183c" stroke="#efc3cc" stroke-width="0.7"/><circle cx="750.7" cy="779.4" r="5.6" fill="#b5183c" stroke="#efc3cc" stroke-width="0.7"/><circle cx="669.9" cy="758.7" r="5.6" fill="#b5183c" stroke="#efc3cc" stroke-width="0.7"/><circle cx="793.9" cy="780.9" r="5.6" fill="#b5183c" stroke="#efc3cc" stroke-width="0.7"/><circle cx="773.0" cy="784.3" r="5.6" fill="#b5183c" stroke="#efc3cc" stroke-width="0.7"/><circle cx="779.5" cy="767.4" r="5.6" fill="#b5183c" stroke="#efc3cc" stroke-width="0.7"/><circle cx="732.2" cy="790.6" r="5.6" fill="#b5183c" stroke="#efc3cc" stroke-width="0.7"/><circle cx="707.2" cy="783.8" r="5.6" fill="#b5183c" stroke="#efc3cc" stroke-width="0.7"/><circle cx="736.9" cy="782.9" r="5.6" fill="#b5183c" stroke="#efc3cc" stroke-width="0.7"/><circle cx="729.3" cy="719.0" r="5.6" fill="#b5183c" stroke="#efc3cc" stroke-width="0.7"/><circle cx="763.4" cy="773.7" r="5.6" fill="#b5183c" stroke="#efc3cc" stroke-width="0.7"/><circle cx="817.2" cy="784.3" r="5.6" fill="#b5183c" stroke="#efc3cc" stroke-width="0.7"/><circle cx="712.5" cy="778.3" r="5.6" fill="#b5183c" stroke="#efc3cc" stroke-width="0.7"/><circle cx="755.8" cy="789.3" r="5.6" fill="#b5183c" stroke="#efc3cc" stroke-width="0.7"/><circle cx="627.7" cy="773.4" r="5.6" fill="#b5183c" stroke="#efc3cc" stroke-width="0.7"/><circle cx="757.0" cy="789.0" r="5.6" fill="#b5183c" stroke="#efc3cc" stroke-width="0.7"/><circle cx="809.4" cy="778.9" r="5.6" fill="#b5183c" stroke="#efc3cc" stroke-width="0.7"/><circle cx="765.9" cy="778.5" r="5.6" fill="#b5183c" stroke="#efc3cc" stroke-width="0.7"/><circle cx="737.4" cy="774.0" r="5.6" fill="#b5183c" stroke="#efc3cc" stroke-width="0.7"/><circle cx="755.9" cy="782.8" r="5.6" fill="#b5183c" stroke="#efc3cc" stroke-width="0.7"/><circle cx="780.6" cy="786.0" r="5.6" fill="#b5183c" stroke="#efc3cc" stroke-width="0.7"/><circle cx="793.0" cy="779.9" r="5.6" fill="#b5183c" stroke="#efc3cc" stroke-width="0.7"/><circle cx="702.4" cy="768.8" r="5.6" fill="#b5183c" stroke="#efc3cc" stroke-width="0.7"/><circle cx="778.3" cy="749.3" r="5.6" fill="#b5183c" stroke="#efc3cc" stroke-width="0.7"/><circle cx="661.5" cy="783.6" r="5.6" fill="#b5183c" stroke="#efc3cc" stroke-width="0.7"/><circle cx="735.4" cy="774.0" r="5.6" fill="#b5183c" stroke="#efc3cc" stroke-width="0.7"/><circle cx="779.9" cy="786.1" r="5.6" fill="#b5183c" stroke="#efc3cc" stroke-width="0.7"/><circle cx="760.5" cy="780.4" r="5.6" fill="#b5183c" stroke="#efc3cc" stroke-width="0.7"/><circle cx="762.3" cy="780.8" r="5.6" fill="#b5183c" stroke="#efc3cc" stroke-width="0.7"/><circle cx="720.1" cy="778.4" r="5.6" fill="#b5183c" stroke="#efc3cc" stroke-width="0.7"/><circle cx="781.9" cy="780.2" r="5.6" fill="#b5183c" stroke="#efc3cc" stroke-width="0.7"/><circle cx="704.1" cy="778.9" r="5.6" fill="#b5183c" stroke="#efc3cc" stroke-width="0.7"/><circle cx="755.9" cy="778.7" r="5.6" fill="#b5183c" stroke="#efc3cc" stroke-width="0.7"/><circle cx="781.5" cy="766.1" r="5.6" fill="#b5183c" stroke="#efc3cc" stroke-width="0.7"/><circle cx="773.0" cy="784.6" r="5.6" fill="#b5183c" stroke="#efc3cc" stroke-width="0.7"/><circle cx="830.0" cy="782.3" r="5.6" fill="#b5183c" stroke="#efc3cc" stroke-width="0.7"/><circle cx="735.4" cy="790.5" r="5.6" fill="#b5183c" stroke="#efc3cc" stroke-width="0.7"/><circle cx="706.0" cy="788.6" r="5.6" fill="#b5183c" stroke="#efc3cc" stroke-width="0.7"/><circle cx="619.8" cy="779.6" r="5.6" fill="#b5183c" stroke="#efc3cc" stroke-width="0.7"/><circle cx="814.9" cy="781.7" r="5.6" fill="#b5183c" stroke="#efc3cc" stroke-width="0.7"/><circle cx="762.8" cy="791.2" r="5.6" fill="#b5183c" stroke="#efc3cc" stroke-width="0.7"/><circle cx="652.0" cy="765.9" r="5.6" fill="#b5183c" stroke="#efc3cc" stroke-width="0.7"/><circle cx="681.8" cy="786.3" r="5.6" fill="#b5183c" stroke="#efc3cc" stroke-width="0.7"/><circle cx="694.7" cy="781.0" r="5.6" fill="#b5183c" stroke="#efc3cc" stroke-width="0.7"/><circle cx="660.2" cy="745.4" r="5.6" fill="#b5183c" stroke="#efc3cc" stroke-width="0.7"/><circle cx="697.6" cy="791.2" r="5.6" fill="#b5183c" stroke="#efc3cc" stroke-width="0.7"/><circle cx="661.7" cy="766.8" r="5.6" fill="#b5183c" stroke="#efc3cc" stroke-width="0.7"/><circle cx="679.2" cy="778.5" r="5.6" fill="#b5183c" stroke="#efc3cc" stroke-width="0.7"/><circle cx="649.0" cy="792.4" r="5.6" fill="#b5183c" stroke="#efc3cc" stroke-width="0.7"/><circle cx="828.6" cy="786.4" r="5.6" fill="#b5183c" stroke="#efc3cc" stroke-width="0.7"/><circle cx="712.6" cy="793.8" r="5.6" fill="#b5183c" stroke="#efc3cc" stroke-width="0.7"/><circle cx="738.9" cy="783.5" r="5.6" fill="#b5183c" stroke="#efc3cc" stroke-width="0.7"/><circle cx="766.5" cy="777.8" r="5.6" fill="#b5183c" stroke="#efc3cc" stroke-width="0.7"/><circle cx="648.6" cy="782.5" r="5.6" fill="#b5183c" stroke="#efc3cc" stroke-width="0.7"/><circle cx="876.3" cy="789.3" r="5.6" fill="#b5183c" stroke="#efc3cc" stroke-width="0.7"/><circle cx="642.1" cy="773.2" r="5.6" fill="#b5183c" stroke="#efc3cc" stroke-width="0.7"/><circle cx="778.8" cy="790.0" r="5.6" fill="#b5183c" stroke="#efc3cc" stroke-width="0.7"/><circle cx="758.0" cy="780.1" r="5.6" fill="#b5183c" stroke="#efc3cc" stroke-width="0.7"/><circle cx="786.9" cy="772.2" r="5.6" fill="#b5183c" stroke="#efc3cc" stroke-width="0.7"/><circle cx="774.6" cy="777.9" r="5.6" fill="#b5183c" stroke="#efc3cc" stroke-width="0.7"/><circle cx="658.7" cy="791.1" r="5.6" fill="#b5183c" stroke="#efc3cc" stroke-width="0.7"/><circle cx="800.5" cy="779.2" r="5.6" fill="#b5183c" stroke="#efc3cc" stroke-width="0.7"/><circle cx="796.6" cy="768.1" r="5.6" fill="#b5183c" stroke="#efc3cc" stroke-width="0.7"/><circle cx="779.0" cy="772.4" r="5.6" fill="#b5183c" stroke="#efc3cc" stroke-width="0.7"/><circle cx="764.8" cy="729.3" r="5.6" fill="#b5183c" stroke="#efc3cc" stroke-width="0.7"/><circle cx="671.8" cy="775.2" r="5.6" fill="#b5183c" stroke="#efc3cc" stroke-width="0.7"/><circle cx="793.2" cy="770.9" r="5.6" fill="#b5183c" stroke="#efc3cc" stroke-width="0.7"/><circle cx="789.7" cy="783.0" r="5.6" fill="#b5183c" stroke="#efc3cc" stroke-width="0.7"/><circle cx="645.1" cy="771.0" r="5.6" fill="#b5183c" stroke="#efc3cc" stroke-width="0.7"/><circle cx="819.2" cy="787.5" r="5.6" fill="#b5183c" stroke="#efc3cc" stroke-width="0.7"/><circle cx="683.4" cy="752.3" r="5.6" fill="#b5183c" stroke="#efc3cc" stroke-width="0.7"/><circle cx="823.4" cy="787.3" r="5.6" fill="#b5183c" stroke="#efc3cc" stroke-width="0.7"/><circle cx="736.9" cy="776.7" r="5.6" fill="#b5183c" stroke="#efc3cc" stroke-width="0.7"/><circle cx="711.2" cy="778.3" r="5.6" fill="#b5183c" stroke="#efc3cc" stroke-width="0.7"/><circle cx="702.2" cy="778.1" r="5.6" fill="#b5183c" stroke="#efc3cc" stroke-width="0.7"/><circle cx="706.8" cy="785.9" r="5.6" fill="#b5183c" stroke="#efc3cc" stroke-width="0.7"/><circle cx="718.0" cy="784.1" r="5.6" fill="#b5183c" stroke="#efc3cc" stroke-width="0.7"/><circle cx="804.5" cy="781.0" r="5.6" fill="#b5183c" stroke="#efc3cc" stroke-width="0.7"/><circle cx="736.5" cy="782.9" r="5.6" fill="#b5183c" stroke="#efc3cc" stroke-width="0.7"/><circle cx="651.2" cy="771.9" r="5.6" fill="#b5183c" stroke="#efc3cc" stroke-width="0.7"/><circle cx="758.2" cy="779.6" r="5.6" fill="#b5183c" stroke="#efc3cc" stroke-width="0.7"/><circle cx="779.9" cy="778.1" r="5.6" fill="#b5183c" stroke="#efc3cc" stroke-width="0.7"/><circle cx="763.8" cy="781.8" r="5.6" fill="#b5183c" stroke="#efc3cc" stroke-width="0.7"/><circle cx="749.1" cy="788.0" r="5.6" fill="#b5183c" stroke="#efc3cc" stroke-width="0.7"/><circle cx="716.5" cy="769.5" r="5.6" fill="#b5183c" stroke="#efc3cc" stroke-width="0.7"/><circle cx="693.7" cy="775.5" r="5.6" fill="#b5183c" stroke="#efc3cc" stroke-width="0.7"/><circle cx="727.3" cy="784.1" r="5.6" fill="#b5183c" stroke="#efc3cc" stroke-width="0.7"/><circle cx="699.1" cy="783.7" r="5.6" fill="#b5183c" stroke="#efc3cc" stroke-width="0.7"/><circle cx="710.1" cy="782.7" r="5.6" fill="#b5183c" stroke="#efc3cc" stroke-width="0.7"/><circle cx="707.3" cy="768.5" r="5.6" fill="#b5183c" stroke="#efc3cc" stroke-width="0.7"/><circle cx="813.0" cy="771.3" r="5.6" fill="#b5183c" stroke="#efc3cc" stroke-width="0.7"/><circle cx="738.1" cy="763.0" r="5.6" fill="#b5183c" stroke="#efc3cc" stroke-width="0.7"/><circle cx="783.3" cy="779.6" r="5.6" fill="#b5183c" stroke="#efc3cc" stroke-width="0.7"/><circle cx="720.9" cy="785.3" r="5.6" fill="#b5183c" stroke="#efc3cc" stroke-width="0.7"/><circle cx="733.4" cy="657.6" r="5.6" fill="#b5183c" stroke="#efc3cc" stroke-width="0.7"/><circle cx="769.7" cy="776.9" r="5.6" fill="#b5183c" stroke="#efc3cc" stroke-width="0.7"/><circle cx="785.8" cy="764.9" r="5.6" fill="#b5183c" stroke="#efc3cc" stroke-width="0.7"/><circle cx="759.6" cy="733.8" r="5.6" fill="#b5183c" stroke="#efc3cc" stroke-width="0.7"/><circle cx="635.1" cy="791.2" r="5.6" fill="#b5183c" stroke="#efc3cc" stroke-width="0.7"/><circle cx="663.6" cy="788.5" r="5.6" fill="#b5183c" stroke="#efc3cc" stroke-width="0.7"/><circle cx="733.7" cy="770.8" r="5.6" fill="#b5183c" stroke="#efc3cc" stroke-width="0.7"/><circle cx="758.9" cy="761.3" r="5.6" fill="#b5183c" stroke="#efc3cc" stroke-width="0.7"/><circle cx="854.8" cy="764.1" r="5.6" fill="#b5183c" stroke="#efc3cc" stroke-width="0.7"/><circle cx="739.3" cy="777.6" r="5.6" fill="#b5183c" stroke="#efc3cc" stroke-width="0.7"/><circle cx="761.9" cy="786.9" r="5.6" fill="#b5183c" stroke="#efc3cc" stroke-width="0.7"/><circle cx="756.1" cy="782.0" r="5.6" fill="#b5183c" stroke="#efc3cc" stroke-width="0.7"/><circle cx="694.0" cy="779.0" r="5.6" fill="#b5183c" stroke="#efc3cc" stroke-width="0.7"/><circle cx="643.4" cy="788.6" r="5.6" fill="#b5183c" stroke="#efc3cc" stroke-width="0.7"/><circle cx="722.1" cy="778.2" r="5.6" fill="#b5183c" stroke="#efc3cc" stroke-width="0.7"/><circle cx="789.6" cy="785.4" r="5.6" fill="#b5183c" stroke="#efc3cc" stroke-width="0.7"/><circle cx="793.3" cy="769.7" r="5.6" fill="#b5183c" stroke="#efc3cc" stroke-width="0.7"/><circle cx="780.9" cy="760.3" r="5.6" fill="#b5183c" stroke="#efc3cc" stroke-width="0.7"/><circle cx="703.3" cy="779.1" r="5.6" fill="#b5183c" stroke="#efc3cc" stroke-width="0.7"/><circle cx="826.5" cy="773.9" r="5.6" fill="#b5183c" stroke="#efc3cc" stroke-width="0.7"/><circle cx="717.3" cy="763.9" r="5.6" fill="#b5183c" stroke="#efc3cc" stroke-width="0.7"/><circle cx="863.0" cy="774.2" r="5.6" fill="#b5183c" stroke="#efc3cc" stroke-width="0.7"/><circle cx="772.6" cy="774.1" r="5.6" fill="#b5183c" stroke="#efc3cc" stroke-width="0.7"/><circle cx="756.9" cy="773.7" r="5.6" fill="#b5183c" stroke="#efc3cc" stroke-width="0.7"/><circle cx="801.1" cy="775.6" r="5.6" fill="#b5183c" stroke="#efc3cc" stroke-width="0.7"/><circle cx="763.9" cy="783.6" r="5.6" fill="#b5183c" stroke="#efc3cc" stroke-width="0.7"/><circle cx="705.6" cy="775.9" r="5.6" fill="#b5183c" stroke="#efc3cc" stroke-width="0.7"/><circle cx="761.3" cy="790.2" r="5.6" fill="#b5183c" stroke="#efc3cc" stroke-width="0.7"/><circle cx="758.6" cy="773.5" r="5.6" fill="#b5183c" stroke="#efc3cc" stroke-width="0.7"/><circle cx="746.3" cy="787.6" r="5.6" fill="#b5183c" stroke="#efc3cc" stroke-width="0.7"/><circle cx="719.3" cy="771.7" r="5.6" fill="#b5183c" stroke="#efc3cc" stroke-width="0.7"/><circle cx="694.5" cy="781.2" r="5.6" fill="#b5183c" stroke="#efc3cc" stroke-width="0.7"/><circle cx="689.2" cy="793.1" r="5.6" fill="#b5183c" stroke="#efc3cc" stroke-width="0.7"/><circle cx="797.8" cy="782.2" r="5.6" fill="#b5183c" stroke="#efc3cc" stroke-width="0.7"/><circle cx="663.8" cy="785.2" r="5.6" fill="#b5183c" stroke="#efc3cc" stroke-width="0.7"/><circle cx="669.9" cy="762.8" r="5.6" fill="#b5183c" stroke="#efc3cc" stroke-width="0.7"/><circle cx="700.9" cy="780.9" r="5.6" fill="#b5183c" stroke="#efc3cc" stroke-width="0.7"/><circle cx="723.1" cy="784.5" r="5.6" fill="#b5183c" stroke="#efc3cc" stroke-width="0.7"/><circle cx="730.0" cy="733.0" r="5.6" fill="#b5183c" stroke="#efc3cc" stroke-width="0.7"/><circle cx="671.8" cy="791.1" r="5.6" fill="#b5183c" stroke="#efc3cc" stroke-width="0.7"/><circle cx="813.1" cy="778.3" r="5.6" fill="#b5183c" stroke="#efc3cc" stroke-width="0.7"/><circle cx="653.4" cy="785.4" r="5.6" fill="#b5183c" stroke="#efc3cc" stroke-width="0.7"/><circle cx="733.9" cy="770.2" r="5.6" fill="#b5183c" stroke="#efc3cc" stroke-width="0.7"/><circle cx="707.7" cy="773.5" r="5.6" fill="#b5183c" stroke="#efc3cc" stroke-width="0.7"/><circle cx="736.3" cy="781.3" r="5.6" fill="#b5183c" stroke="#efc3cc" stroke-width="0.7"/><circle cx="757.4" cy="791.7" r="5.6" fill="#b5183c" stroke="#efc3cc" stroke-width="0.7"/><circle cx="704.9" cy="783.0" r="5.6" fill="#b5183c" stroke="#efc3cc" stroke-width="0.7"/><circle cx="864.3" cy="774.0" r="5.6" fill="#b5183c" stroke="#efc3cc" stroke-width="0.7"/><circle cx="686.6" cy="764.8" r="5.6" fill="#b5183c" stroke="#efc3cc" stroke-width="0.7"/><circle cx="702.7" cy="758.0" r="5.6" fill="#b5183c" stroke="#efc3cc" stroke-width="0.7"/><circle cx="703.9" cy="784.4" r="5.6" fill="#b5183c" stroke="#efc3cc" stroke-width="0.7"/><circle cx="678.7" cy="767.3" r="5.6" fill="#b5183c" stroke="#efc3cc" stroke-width="0.7"/><circle cx="727.0" cy="776.6" r="5.6" fill="#b5183c" stroke="#efc3cc" stroke-width="0.7"/><circle cx="602.8" cy="774.2" r="5.6" fill="#b5183c" stroke="#efc3cc" stroke-width="0.7"/><circle cx="761.2" cy="777.2" r="5.6" fill="#b5183c" stroke="#efc3cc" stroke-width="0.7"/><circle cx="642.9" cy="775.1" r="5.6" fill="#b5183c" stroke="#efc3cc" stroke-width="0.7"/><circle cx="764.2" cy="771.8" r="5.6" fill="#b5183c" stroke="#efc3cc" stroke-width="0.7"/><circle cx="733.7" cy="783.2" r="5.6" fill="#b5183c" stroke="#efc3cc" stroke-width="0.7"/><circle cx="794.5" cy="776.8" r="5.6" fill="#b5183c" stroke="#efc3cc" stroke-width="0.7"/><circle cx="740.6" cy="784.6" r="5.6" fill="#b5183c" stroke="#efc3cc" stroke-width="0.7"/><circle cx="778.9" cy="784.0" r="5.6" fill="#b5183c" stroke="#efc3cc" stroke-width="0.7"/><circle cx="685.2" cy="774.3" r="5.6" fill="#b5183c" stroke="#efc3cc" stroke-width="0.7"/><circle cx="826.5" cy="769.7" r="5.6" fill="#b5183c" stroke="#efc3cc" stroke-width="0.7"/><circle cx="768.9" cy="788.0" r="5.6" fill="#b5183c" stroke="#efc3cc" stroke-width="0.7"/><circle cx="691.6" cy="777.4" r="5.6" fill="#b5183c" stroke="#efc3cc" stroke-width="0.7"/><circle cx="737.7" cy="748.7" r="5.6" fill="#b5183c" stroke="#efc3cc" stroke-width="0.7"/><circle cx="649.0" cy="784.6" r="5.6" fill="#b5183c" stroke="#efc3cc" stroke-width="0.7"/><circle cx="758.7" cy="787.5" r="5.6" fill="#b5183c" stroke="#efc3cc" stroke-width="0.7"/><circle cx="757.0" cy="774.2" r="5.6" fill="#b5183c" stroke="#efc3cc" stroke-width="0.7"/><circle cx="756.5" cy="785.7" r="5.6" fill="#b5183c" stroke="#efc3cc" stroke-width="0.7"/><circle cx="689.7" cy="775.0" r="5.6" fill="#b5183c" stroke="#efc3cc" stroke-width="0.7"/><circle cx="756.9" cy="783.9" r="5.6" fill="#b5183c" stroke="#efc3cc" stroke-width="0.7"/><circle cx="765.5" cy="767.1" r="5.6" fill="#b5183c" stroke="#efc3cc" stroke-width="0.7"/><circle cx="745.0" cy="770.0" r="5.6" fill="#b5183c" stroke="#efc3cc" stroke-width="0.7"/><circle cx="752.2" cy="792.4" r="5.6" fill="#b5183c" stroke="#efc3cc" stroke-width="0.7"/><circle cx="766.3" cy="782.7" r="5.6" fill="#b5183c" stroke="#efc3cc" stroke-width="0.7"/><circle cx="704.8" cy="785.1" r="5.6" fill="#b5183c" stroke="#efc3cc" stroke-width="0.7"/><circle cx="750.3" cy="777.9" r="5.6" fill="#b5183c" stroke="#efc3cc" stroke-width="0.7"/><circle cx="778.2" cy="781.2" r="5.6" fill="#b5183c" stroke="#efc3cc" stroke-width="0.7"/><circle cx="740.3" cy="781.7" r="5.6" fill="#b5183c" stroke="#efc3cc" stroke-width="0.7"/><circle cx="708.7" cy="782.0" r="5.6" fill="#b5183c" stroke="#efc3cc" stroke-width="0.7"/><circle cx="739.3" cy="785.9" r="5.6" fill="#b5183c" stroke="#efc3cc" stroke-width="0.7"/><circle cx="823.4" cy="770.6" r="5.6" fill="#b5183c" stroke="#efc3cc" stroke-width="0.7"/><circle cx="740.3" cy="768.0" r="5.6" fill="#b5183c" stroke="#efc3cc" stroke-width="0.7"/><circle cx="708.2" cy="778.9" r="5.6" fill="#b5183c" stroke="#efc3cc" stroke-width="0.7"/><circle cx="740.2" cy="784.9" r="5.6" fill="#b5183c" stroke="#efc3cc" stroke-width="0.7"/><circle cx="734.3" cy="780.2" r="5.6" fill="#b5183c" stroke="#efc3cc" stroke-width="0.7"/><circle cx="775.1" cy="775.4" r="5.6" fill="#b5183c" stroke="#efc3cc" stroke-width="0.7"/><circle cx="725.8" cy="771.1" r="5.6" fill="#b5183c" stroke="#efc3cc" stroke-width="0.7"/><circle cx="782.9" cy="778.7" r="5.6" fill="#b5183c" stroke="#efc3cc" stroke-width="0.7"/><circle cx="707.5" cy="779.0" r="5.6" fill="#b5183c" stroke="#efc3cc" stroke-width="0.7"/><circle cx="669.4" cy="782.5" r="5.6" fill="#b5183c" stroke="#efc3cc" stroke-width="0.7"/><circle cx="746.0" cy="787.5" r="5.6" fill="#b5183c" stroke="#efc3cc" stroke-width="0.7"/><circle cx="738.6" cy="765.3" r="5.6" fill="#b5183c" stroke="#efc3cc" stroke-width="0.7"/><circle cx="635.3" cy="776.6" r="5.6" fill="#b5183c" stroke="#efc3cc" stroke-width="0.7"/><circle cx="809.0" cy="778.5" r="5.6" fill="#b5183c" stroke="#efc3cc" stroke-width="0.7"/><circle cx="838.8" cy="773.6" r="5.6" fill="#b5183c" stroke="#efc3cc" stroke-width="0.7"/><circle cx="777.7" cy="735.1" r="5.6" fill="#b5183c" stroke="#efc3cc" stroke-width="0.7"/><circle cx="734.6" cy="768.4" r="5.6" fill="#b5183c" stroke="#efc3cc" stroke-width="0.7"/><circle cx="762.6" cy="777.6" r="5.6" fill="#b5183c" stroke="#efc3cc" stroke-width="0.7"/><circle cx="770.3" cy="784.3" r="5.6" fill="#b5183c" stroke="#efc3cc" stroke-width="0.7"/><circle cx="704.5" cy="783.3" r="5.6" fill="#b5183c" stroke="#efc3cc" stroke-width="0.7"/><circle cx="772.8" cy="765.8" r="5.6" fill="#b5183c" stroke="#efc3cc" stroke-width="0.7"/><circle cx="715.6" cy="793.6" r="5.6" fill="#b5183c" stroke="#efc3cc" stroke-width="0.7"/><circle cx="711.7" cy="757.0" r="5.6" fill="#b5183c" stroke="#efc3cc" stroke-width="0.7"/><circle cx="731.0" cy="785.9" r="5.6" fill="#b5183c" stroke="#efc3cc" stroke-width="0.7"/><circle cx="772.9" cy="780.9" r="5.6" fill="#b5183c" stroke="#efc3cc" stroke-width="0.7"/><circle cx="726.7" cy="782.8" r="5.6" fill="#b5183c" stroke="#efc3cc" stroke-width="0.7"/><circle cx="750.8" cy="778.4" r="5.6" fill="#b5183c" stroke="#efc3cc" stroke-width="0.7"/><circle cx="745.3" cy="772.6" r="5.6" fill="#b5183c" stroke="#efc3cc" stroke-width="0.7"/><circle cx="800.2" cy="789.9" r="5.6" fill="#b5183c" stroke="#efc3cc" stroke-width="0.7"/><circle cx="826.7" cy="779.1" r="5.6" fill="#b5183c" stroke="#efc3cc" stroke-width="0.7"/><circle cx="775.9" cy="793.1" r="5.6" fill="#b5183c" stroke="#efc3cc" stroke-width="0.7"/><circle cx="679.2" cy="781.2" r="5.6" fill="#b5183c" stroke="#efc3cc" stroke-width="0.7"/><circle cx="680.4" cy="785.9" r="5.6" fill="#b5183c" stroke="#efc3cc" stroke-width="0.7"/><circle cx="794.1" cy="790.2" r="5.6" fill="#b5183c" stroke="#efc3cc" stroke-width="0.7"/><circle cx="744.2" cy="776.0" r="5.6" fill="#b5183c" stroke="#efc3cc" stroke-width="0.7"/><circle cx="767.0" cy="783.1" r="5.6" fill="#b5183c" stroke="#efc3cc" stroke-width="0.7"/><circle cx="850.3" cy="786.8" r="5.6" fill="#b5183c" stroke="#efc3cc" stroke-width="0.7"/><circle cx="768.5" cy="771.4" r="5.6" fill="#b5183c" stroke="#efc3cc" stroke-width="0.7"/><circle cx="740.3" cy="792.5" r="5.6" fill="#b5183c" stroke="#efc3cc" stroke-width="0.7"/><circle cx="759.0" cy="779.4" r="5.6" fill="#b5183c" stroke="#efc3cc" stroke-width="0.7"/><circle cx="728.4" cy="785.6" r="5.6" fill="#b5183c" stroke="#efc3cc" stroke-width="0.7"/><circle cx="794.8" cy="789.4" r="5.6" fill="#b5183c" stroke="#efc3cc" stroke-width="0.7"/><circle cx="744.2" cy="739.4" r="5.6" fill="#b5183c" stroke="#efc3cc" stroke-width="0.7"/><circle cx="753.6" cy="774.9" r="5.6" fill="#b5183c" stroke="#efc3cc" stroke-width="0.7"/><circle cx="804.5" cy="777.4" r="5.6" fill="#b5183c" stroke="#efc3cc" stroke-width="0.7"/><circle cx="706.3" cy="778.7" r="5.6" fill="#b5183c" stroke="#efc3cc" stroke-width="0.7"/><circle cx="739.7" cy="777.1" r="5.6" fill="#b5183c" stroke="#efc3cc" stroke-width="0.7"/><circle cx="694.2" cy="786.1" r="5.6" fill="#b5183c" stroke="#efc3cc" stroke-width="0.7"/><circle cx="780.1" cy="764.8" r="5.6" fill="#b5183c" stroke="#efc3cc" stroke-width="0.7"/><circle cx="780.9" cy="791.9" r="5.6" fill="#b5183c" stroke="#efc3cc" stroke-width="0.7"/><circle cx="693.0" cy="780.2" r="5.6" fill="#b5183c" stroke="#efc3cc" stroke-width="0.7"/><circle cx="675.6" cy="778.8" r="5.6" fill="#b5183c" stroke="#efc3cc" stroke-width="0.7"/><circle cx="733.0" cy="769.6" r="5.6" fill="#b5183c" stroke="#efc3cc" stroke-width="0.7"/><circle cx="734.5" cy="772.9" r="5.6" fill="#b5183c" stroke="#efc3cc" stroke-width="0.7"/><circle cx="737.4" cy="781.3" r="5.6" fill="#b5183c" stroke="#efc3cc" stroke-width="0.7"/><circle cx="805.6" cy="769.5" r="5.6" fill="#b5183c" stroke="#efc3cc" stroke-width="0.7"/><circle cx="699.9" cy="767.5" r="5.6" fill="#b5183c" stroke="#efc3cc" stroke-width="0.7"/><circle cx="732.2" cy="780.4" r="5.6" fill="#b5183c" stroke="#efc3cc" stroke-width="0.7"/><circle cx="700.3" cy="782.9" r="5.6" fill="#b5183c" stroke="#efc3cc" stroke-width="0.7"/><circle cx="755.1" cy="780.4" r="5.6" fill="#b5183c" stroke="#efc3cc" stroke-width="0.7"/><circle cx="716.2" cy="784.8" r="5.6" fill="#b5183c" stroke="#efc3cc" stroke-width="0.7"/><circle cx="685.1" cy="782.7" r="5.6" fill="#b5183c" stroke="#efc3cc" stroke-width="0.7"/><circle cx="712.6" cy="756.4" r="5.6" fill="#b5183c" stroke="#efc3cc" stroke-width="0.7"/><circle cx="780.7" cy="779.2" r="5.6" fill="#b5183c" stroke="#efc3cc" stroke-width="0.7"/><circle cx="656.3" cy="792.2" r="5.6" fill="#b5183c" stroke="#efc3cc" stroke-width="0.7"/><circle cx="766.7" cy="765.4" r="5.6" fill="#b5183c" stroke="#efc3cc" stroke-width="0.7"/><circle cx="716.7" cy="771.8" r="5.6" fill="#b5183c" stroke="#efc3cc" stroke-width="0.7"/><circle cx="685.9" cy="790.8" r="5.6" fill="#b5183c" stroke="#efc3cc" stroke-width="0.7"/><circle cx="638.9" cy="786.7" r="5.6" fill="#b5183c" stroke="#efc3cc" stroke-width="0.7"/><circle cx="795.6" cy="769.8" r="5.6" fill="#b5183c" stroke="#efc3cc" stroke-width="0.7"/><circle cx="728.4" cy="779.1" r="5.6" fill="#b5183c" stroke="#efc3cc" stroke-width="0.7"/><circle cx="759.1" cy="767.8" r="5.6" fill="#b5183c" stroke="#efc3cc" stroke-width="0.7"/><circle cx="710.6" cy="772.2" r="5.6" fill="#b5183c" stroke="#efc3cc" stroke-width="0.7"/><circle cx="738.4" cy="782.4" r="5.6" fill="#b5183c" stroke="#efc3cc" stroke-width="0.7"/><circle cx="687.0" cy="787.5" r="5.6" fill="#b5183c" stroke="#efc3cc" stroke-width="0.7"/><circle cx="720.6" cy="773.4" r="5.6" fill="#b5183c" stroke="#efc3cc" stroke-width="0.7"/><circle cx="750.9" cy="782.6" r="5.6" fill="#b5183c" stroke="#efc3cc" stroke-width="0.7"/><circle cx="781.2" cy="779.1" r="5.6" fill="#b5183c" stroke="#efc3cc" stroke-width="0.7"/><circle cx="754.7" cy="775.1" r="5.6" fill="#b5183c" stroke="#efc3cc" stroke-width="0.7"/><circle cx="793.8" cy="767.4" r="5.6" fill="#b5183c" stroke="#efc3cc" stroke-width="0.7"/><circle cx="725.7" cy="762.3" r="5.6" fill="#b5183c" stroke="#efc3cc" stroke-width="0.7"/><circle cx="803.8" cy="773.7" r="5.6" fill="#b5183c" stroke="#efc3cc" stroke-width="0.7"/><circle cx="710.5" cy="728.7" r="5.6" fill="#b5183c" stroke="#efc3cc" stroke-width="0.7"/><circle cx="721.6" cy="776.4" r="5.6" fill="#b5183c" stroke="#efc3cc" stroke-width="0.7"/><circle cx="708.9" cy="786.6" r="5.6" fill="#b5183c" stroke="#efc3cc" stroke-width="0.7"/><circle cx="814.9" cy="785.7" r="5.6" fill="#b5183c" stroke="#efc3cc" stroke-width="0.7"/><circle cx="723.2" cy="784.9" r="5.6" fill="#b5183c" stroke="#efc3cc" stroke-width="0.7"/><circle cx="741.6" cy="776.9" r="5.6" fill="#b5183c" stroke="#efc3cc" stroke-width="0.7"/><circle cx="711.9" cy="728.7" r="5.6" fill="#b5183c" stroke="#efc3cc" stroke-width="0.7"/><circle cx="750.7" cy="780.9" r="5.6" fill="#b5183c" stroke="#efc3cc" stroke-width="0.7"/><circle cx="775.5" cy="767.8" r="5.6" fill="#b5183c" stroke="#efc3cc" stroke-width="0.7"/><circle cx="808.1" cy="776.8" r="5.6" fill="#b5183c" stroke="#efc3cc" stroke-width="0.7"/><circle cx="850.5" cy="789.3" r="5.6" fill="#b5183c" stroke="#efc3cc" stroke-width="0.7"/><circle cx="717.8" cy="776.2" r="5.6" fill="#b5183c" stroke="#efc3cc" stroke-width="0.7"/><circle cx="680.7" cy="784.7" r="5.6" fill="#b5183c" stroke="#efc3cc" stroke-width="0.7"/><circle cx="732.3" cy="776.8" r="5.6" fill="#b5183c" stroke="#efc3cc" stroke-width="0.7"/><circle cx="782.2" cy="776.2" r="5.6" fill="#b5183c" stroke="#efc3cc" stroke-width="0.7"/><circle cx="714.3" cy="793.8" r="5.6" fill="#b5183c" stroke="#efc3cc" stroke-width="0.7"/><circle cx="807.0" cy="763.8" r="5.6" fill="#b5183c" stroke="#efc3cc" stroke-width="0.7"/><circle cx="705.6" cy="791.9" r="5.6" fill="#b5183c" stroke="#efc3cc" stroke-width="0.7"/><circle cx="722.5" cy="781.9" r="5.6" fill="#b5183c" stroke="#efc3cc" stroke-width="0.7"/><circle cx="750.2" cy="767.8" r="5.6" fill="#b5183c" stroke="#efc3cc" stroke-width="0.7"/><circle cx="765.8" cy="780.3" r="5.6" fill="#b5183c" stroke="#efc3cc" stroke-width="0.7"/><circle cx="719.1" cy="785.4" r="5.6" fill="#b5183c" stroke="#efc3cc" stroke-width="0.7"/><circle cx="754.5" cy="750.6" r="5.6" fill="#b5183c" stroke="#efc3cc" stroke-width="0.7"/><circle cx="822.9" cy="783.6" r="5.6" fill="#b5183c" stroke="#efc3cc" stroke-width="0.7"/><circle cx="678.2" cy="746.1" r="5.6" fill="#b5183c" stroke="#efc3cc" stroke-width="0.7"/><circle cx="659.5" cy="786.3" r="5.6" fill="#b5183c" stroke="#efc3cc" stroke-width="0.7"/><circle cx="772.3" cy="782.6" r="5.6" fill="#b5183c" stroke="#efc3cc" stroke-width="0.7"/><circle cx="733.7" cy="790.9" r="5.6" fill="#b5183c" stroke="#efc3cc" stroke-width="0.7"/><circle cx="658.4" cy="788.6" r="5.6" fill="#b5183c" stroke="#efc3cc" stroke-width="0.7"/><circle cx="844.6" cy="781.4" r="5.6" fill="#b5183c" stroke="#efc3cc" stroke-width="0.7"/><circle cx="781.5" cy="757.0" r="5.6" fill="#b5183c" stroke="#efc3cc" stroke-width="0.7"/><circle cx="846.6" cy="783.5" r="5.6" fill="#b5183c" stroke="#efc3cc" stroke-width="0.7"/><circle cx="698.0" cy="780.8" r="5.6" fill="#b5183c" stroke="#efc3cc" stroke-width="0.7"/><circle cx="759.3" cy="770.5" r="5.6" fill="#b5183c" stroke="#efc3cc" stroke-width="0.7"/><circle cx="698.0" cy="780.9" r="5.6" fill="#b5183c" stroke="#efc3cc" stroke-width="0.7"/><circle cx="721.0" cy="794.4" r="5.6" fill="#b5183c" stroke="#efc3cc" stroke-width="0.7"/><circle cx="818.1" cy="787.7" r="5.6" fill="#b5183c" stroke="#efc3cc" stroke-width="0.7"/><circle cx="730.4" cy="786.6" r="5.6" fill="#b5183c" stroke="#efc3cc" stroke-width="0.7"/><circle cx="763.2" cy="771.8" r="5.6" fill="#b5183c" stroke="#efc3cc" stroke-width="0.7"/><circle cx="641.3" cy="778.6" r="5.6" fill="#b5183c" stroke="#efc3cc" stroke-width="0.7"/><circle cx="639.3" cy="767.4" r="5.6" fill="#b5183c" stroke="#efc3cc" stroke-width="0.7"/><circle cx="779.7" cy="783.2" r="5.6" fill="#b5183c" stroke="#efc3cc" stroke-width="0.7"/><circle cx="809.3" cy="792.5" r="5.6" fill="#b5183c" stroke="#efc3cc" stroke-width="0.7"/><circle cx="816.2" cy="775.7" r="5.6" fill="#b5183c" stroke="#efc3cc" stroke-width="0.7"/><circle cx="633.1" cy="779.0" r="5.6" fill="#b5183c" stroke="#efc3cc" stroke-width="0.7"/><circle cx="753.8" cy="728.7" r="5.6" fill="#b5183c" stroke="#efc3cc" stroke-width="0.7"/><circle cx="755.2" cy="788.0" r="5.6" fill="#b5183c" stroke="#efc3cc" stroke-width="0.7"/><circle cx="776.5" cy="781.7" r="5.6" fill="#b5183c" stroke="#efc3cc" stroke-width="0.7"/><circle cx="738.7" cy="764.5" r="5.6" fill="#b5183c" stroke="#efc3cc" stroke-width="0.7"/><circle cx="738.3" cy="782.9" r="5.6" fill="#b5183c" stroke="#efc3cc" stroke-width="0.7"/><circle cx="768.3" cy="790.9" r="5.6" fill="#b5183c" stroke="#efc3cc" stroke-width="0.7"/><circle cx="763.0" cy="788.8" r="5.6" fill="#b5183c" stroke="#efc3cc" stroke-width="0.7"/><circle cx="683.7" cy="764.3" r="5.6" fill="#b5183c" stroke="#efc3cc" stroke-width="0.7"/><circle cx="747.7" cy="768.7" r="5.6" fill="#b5183c" stroke="#efc3cc" stroke-width="0.7"/><circle cx="797.3" cy="779.9" r="5.6" fill="#b5183c" stroke="#efc3cc" stroke-width="0.7"/><circle cx="729.0" cy="790.2" r="5.6" fill="#b5183c" stroke="#efc3cc" stroke-width="0.7"/><circle cx="728.2" cy="776.6" r="5.6" fill="#b5183c" stroke="#efc3cc" stroke-width="0.7"/><circle cx="767.1" cy="774.2" r="5.6" fill="#b5183c" stroke="#efc3cc" stroke-width="0.7"/><circle cx="700.0" cy="770.0" r="5.6" fill="#b5183c" stroke="#efc3cc" stroke-width="0.7"/><circle cx="741.6" cy="780.9" r="5.6" fill="#b5183c" stroke="#efc3cc" stroke-width="0.7"/><circle cx="801.4" cy="771.4" r="5.6" fill="#b5183c" stroke="#efc3cc" stroke-width="0.7"/><circle cx="684.9" cy="770.9" r="5.6" fill="#b5183c" stroke="#efc3cc" stroke-width="0.7"/><circle cx="641.4" cy="779.4" r="5.6" fill="#b5183c" stroke="#efc3cc" stroke-width="0.7"/><circle cx="637.2" cy="779.3" r="5.6" fill="#b5183c" stroke="#efc3cc" stroke-width="0.7"/><circle cx="697.6" cy="720.3" r="5.6" fill="#b5183c" stroke="#efc3cc" stroke-width="0.7"/><circle cx="796.9" cy="772.4" r="5.6" fill="#b5183c" stroke="#efc3cc" stroke-width="0.7"/><circle cx="674.5" cy="774.8" r="5.6" fill="#b5183c" stroke="#efc3cc" stroke-width="0.7"/><circle cx="686.3" cy="771.2" r="5.6" fill="#b5183c" stroke="#efc3cc" stroke-width="0.7"/><circle cx="721.3" cy="785.7" r="5.6" fill="#b5183c" stroke="#efc3cc" stroke-width="0.7"/><circle cx="727.9" cy="768.4" r="5.6" fill="#b5183c" stroke="#efc3cc" stroke-width="0.7"/><circle cx="779.0" cy="790.4" r="5.6" fill="#b5183c" stroke="#efc3cc" stroke-width="0.7"/><circle cx="729.8" cy="771.4" r="5.6" fill="#b5183c" stroke="#efc3cc" stroke-width="0.7"/><circle cx="683.3" cy="771.3" r="5.6" fill="#b5183c" stroke="#efc3cc" stroke-width="0.7"/><circle cx="856.1" cy="775.1" r="5.6" fill="#b5183c" stroke="#efc3cc" stroke-width="0.7"/><circle cx="741.3" cy="768.2" r="5.6" fill="#b5183c" stroke="#efc3cc" stroke-width="0.7"/><circle cx="736.7" cy="773.3" r="5.6" fill="#b5183c" stroke="#efc3cc" stroke-width="0.7"/><circle cx="773.3" cy="793.0" r="5.6" fill="#b5183c" stroke="#efc3cc" stroke-width="0.7"/><circle cx="724.6" cy="787.0" r="5.6" fill="#b5183c" stroke="#efc3cc" stroke-width="0.7"/><circle cx="798.7" cy="785.4" r="5.6" fill="#b5183c" stroke="#efc3cc" stroke-width="0.7"/><circle cx="808.9" cy="792.6" r="5.6" fill="#b5183c" stroke="#efc3cc" stroke-width="0.7"/><circle cx="678.2" cy="725.7" r="5.6" fill="#b5183c" stroke="#efc3cc" stroke-width="0.7"/><circle cx="658.5" cy="773.9" r="5.6" fill="#b5183c" stroke="#efc3cc" stroke-width="0.7"/><circle cx="712.9" cy="788.2" r="5.6" fill="#b5183c" stroke="#efc3cc" stroke-width="0.7"/><circle cx="705.9" cy="781.3" r="5.6" fill="#b5183c" stroke="#efc3cc" stroke-width="0.7"/><circle cx="703.8" cy="774.8" r="5.6" fill="#b5183c" stroke="#efc3cc" stroke-width="0.7"/><circle cx="701.4" cy="721.3" r="5.6" fill="#b5183c" stroke="#efc3cc" stroke-width="0.7"/><circle cx="715.5" cy="773.7" r="5.6" fill="#b5183c" stroke="#efc3cc" stroke-width="0.7"/><circle cx="628.0" cy="783.5" r="5.6" fill="#b5183c" stroke="#efc3cc" stroke-width="0.7"/><circle cx="691.2" cy="779.0" r="5.6" fill="#b5183c" stroke="#efc3cc" stroke-width="0.7"/><circle cx="697.7" cy="778.2" r="5.6" fill="#b5183c" stroke="#efc3cc" stroke-width="0.7"/><circle cx="775.1" cy="776.2" r="5.6" fill="#b5183c" stroke="#efc3cc" stroke-width="0.7"/><circle cx="792.0" cy="777.5" r="5.6" fill="#b5183c" stroke="#efc3cc" stroke-width="0.7"/><circle cx="728.3" cy="778.5" r="5.6" fill="#b5183c" stroke="#efc3cc" stroke-width="0.7"/><circle cx="730.8" cy="781.1" r="5.6" fill="#b5183c" stroke="#efc3cc" stroke-width="0.7"/><circle cx="740.0" cy="780.3" r="5.6" fill="#b5183c" stroke="#efc3cc" stroke-width="0.7"/><circle cx="838.9" cy="791.2" r="5.6" fill="#b5183c" stroke="#efc3cc" stroke-width="0.7"/><circle cx="817.5" cy="766.2" r="5.6" fill="#b5183c" stroke="#efc3cc" stroke-width="0.7"/><circle cx="754.0" cy="775.8" r="5.6" fill="#b5183c" stroke="#efc3cc" stroke-width="0.7"/><circle cx="679.3" cy="780.4" r="5.6" fill="#b5183c" stroke="#efc3cc" stroke-width="0.7"/><circle cx="762.2" cy="767.8" r="5.6" fill="#b5183c" stroke="#efc3cc" stroke-width="0.7"/><circle cx="726.3" cy="761.8" r="5.6" fill="#b5183c" stroke="#efc3cc" stroke-width="0.7"/><circle cx="755.3" cy="782.9" r="5.6" fill="#b5183c" stroke="#efc3cc" stroke-width="0.7"/><circle cx="773.2" cy="767.5" r="5.6" fill="#b5183c" stroke="#efc3cc" stroke-width="0.7"/><circle cx="732.5" cy="778.5" r="5.6" fill="#b5183c" stroke="#efc3cc" stroke-width="0.7"/><circle cx="602.8" cy="777.7" r="5.6" fill="#b5183c" stroke="#efc3cc" stroke-width="0.7"/><circle cx="822.6" cy="772.3" r="5.6" fill="#b5183c" stroke="#efc3cc" stroke-width="0.7"/><circle cx="711.7" cy="737.1" r="5.6" fill="#b5183c" stroke="#efc3cc" stroke-width="0.7"/><circle cx="733.2" cy="782.4" r="5.6" fill="#b5183c" stroke="#efc3cc" stroke-width="0.7"/><circle cx="784.4" cy="783.0" r="5.6" fill="#b5183c" stroke="#efc3cc" stroke-width="0.7"/><circle cx="752.5" cy="733.8" r="5.6" fill="#b5183c" stroke="#efc3cc" stroke-width="0.7"/><circle cx="782.6" cy="781.4" r="5.6" fill="#b5183c" stroke="#efc3cc" stroke-width="0.7"/><circle cx="682.7" cy="746.7" r="5.6" fill="#b5183c" stroke="#efc3cc" stroke-width="0.7"/><circle cx="694.1" cy="776.0" r="5.6" fill="#b5183c" stroke="#efc3cc" stroke-width="0.7"/><circle cx="763.9" cy="778.1" r="5.6" fill="#b5183c" stroke="#efc3cc" stroke-width="0.7"/><circle cx="771.2" cy="793.1" r="5.6" fill="#b5183c" stroke="#efc3cc" stroke-width="0.7"/><circle cx="677.6" cy="792.5" r="5.6" fill="#b5183c" stroke="#efc3cc" stroke-width="0.7"/><circle cx="587.6" cy="780.6" r="5.6" fill="#b5183c" stroke="#efc3cc" stroke-width="0.7"/><circle cx="788.3" cy="781.8" r="5.6" fill="#b5183c" stroke="#efc3cc" stroke-width="0.7"/><circle cx="710.1" cy="771.3" r="5.6" fill="#b5183c" stroke="#efc3cc" stroke-width="0.7"/><circle cx="796.1" cy="781.6" r="5.6" fill="#b5183c" stroke="#efc3cc" stroke-width="0.7"/><circle cx="724.8" cy="721.6" r="5.6" fill="#b5183c" stroke="#efc3cc" stroke-width="0.7"/><circle cx="637.4" cy="774.2" r="5.6" fill="#b5183c" stroke="#efc3cc" stroke-width="0.7"/><circle cx="732.3" cy="784.5" r="5.6" fill="#b5183c" stroke="#efc3cc" stroke-width="0.7"/><circle cx="752.9" cy="769.2" r="5.6" fill="#b5183c" stroke="#efc3cc" stroke-width="0.7"/><circle cx="694.0" cy="758.0" r="5.6" fill="#b5183c" stroke="#efc3cc" stroke-width="0.7"/><circle cx="739.5" cy="765.7" r="5.6" fill="#b5183c" stroke="#efc3cc" stroke-width="0.7"/><circle cx="774.8" cy="786.1" r="5.6" fill="#b5183c" stroke="#efc3cc" stroke-width="0.7"/><circle cx="827.6" cy="782.2" r="5.6" fill="#b5183c" stroke="#efc3cc" stroke-width="0.7"/><circle cx="714.5" cy="779.8" r="5.6" fill="#b5183c" stroke="#efc3cc" stroke-width="0.7"/><circle cx="718.4" cy="739.0" r="5.6" fill="#b5183c" stroke="#efc3cc" stroke-width="0.7"/><circle cx="742.5" cy="788.8" r="5.6" fill="#b5183c" stroke="#efc3cc" stroke-width="0.7"/><circle cx="735.8" cy="753.2" r="5.6" fill="#b5183c" stroke="#efc3cc" stroke-width="0.7"/><circle cx="665.0" cy="723.9" r="5.6" fill="#b5183c" stroke="#efc3cc" stroke-width="0.7"/><circle cx="769.8" cy="779.0" r="5.6" fill="#b5183c" stroke="#efc3cc" stroke-width="0.7"/><circle cx="735.4" cy="781.2" r="5.6" fill="#b5183c" stroke="#efc3cc" stroke-width="0.7"/><circle cx="821.1" cy="786.4" r="5.6" fill="#b5183c" stroke="#efc3cc" stroke-width="0.7"/><circle cx="884.7" cy="786.7" r="5.6" fill="#b5183c" stroke="#efc3cc" stroke-width="0.7"/><circle cx="801.6" cy="791.8" r="5.6" fill="#b5183c" stroke="#efc3cc" stroke-width="0.7"/><circle cx="642.9" cy="785.1" r="5.6" fill="#b5183c" stroke="#efc3cc" stroke-width="0.7"/><circle cx="767.6" cy="767.4" r="5.6" fill="#b5183c" stroke="#efc3cc" stroke-width="0.7"/><circle cx="798.0" cy="761.2" r="5.6" fill="#b5183c" stroke="#efc3cc" stroke-width="0.7"/><circle cx="826.0" cy="786.3" r="5.6" fill="#b5183c" stroke="#efc3cc" stroke-width="0.7"/><circle cx="668.2" cy="778.0" r="5.6" fill="#b5183c" stroke="#efc3cc" stroke-width="0.7"/><circle cx="664.2" cy="780.8" r="5.6" fill="#b5183c" stroke="#efc3cc" stroke-width="0.7"/><circle cx="775.1" cy="741.6" r="5.6" fill="#b5183c" stroke="#efc3cc" stroke-width="0.7"/><circle cx="731.3" cy="792.5" r="5.6" fill="#b5183c" stroke="#efc3cc" stroke-width="0.7"/><circle cx="813.5" cy="773.7" r="5.6" fill="#b5183c" stroke="#efc3cc" stroke-width="0.7"/><circle cx="772.4" cy="787.2" r="5.6" fill="#b5183c" stroke="#efc3cc" stroke-width="0.7"/><circle cx="774.3" cy="782.4" r="5.6" fill="#b5183c" stroke="#efc3cc" stroke-width="0.7"/><circle cx="773.2" cy="780.6" r="5.6" fill="#b5183c" stroke="#efc3cc" stroke-width="0.7"/><circle cx="866.4" cy="781.7" r="5.6" fill="#b5183c" stroke="#efc3cc" stroke-width="0.7"/><circle cx="781.5" cy="780.1" r="5.6" fill="#b5183c" stroke="#efc3cc" stroke-width="0.7"/><circle cx="753.0" cy="794.9" r="5.6" fill="#b5183c" stroke="#efc3cc" stroke-width="0.7"/><circle cx="827.3" cy="779.3" r="5.6" fill="#b5183c" stroke="#efc3cc" stroke-width="0.7"/><circle cx="691.6" cy="784.5" r="5.6" fill="#b5183c" stroke="#efc3cc" stroke-width="0.7"/><circle cx="780.9" cy="742.2" r="5.6" fill="#b5183c" stroke="#efc3cc" stroke-width="0.7"/><circle cx="669.3" cy="769.8" r="5.6" fill="#b5183c" stroke="#efc3cc" stroke-width="0.7"/><circle cx="748.8" cy="780.2" r="5.6" fill="#b5183c" stroke="#efc3cc" stroke-width="0.7"/><circle cx="726.2" cy="780.0" r="5.6" fill="#b5183c" stroke="#efc3cc" stroke-width="0.7"/><circle cx="876.3" cy="780.3" r="5.6" fill="#d6512f" stroke="#f5d7cc" stroke-width="0.6"/><circle cx="860.2" cy="787.3" r="5.6" fill="#f0a070" stroke="#f5d7cc" stroke-width="0.6"/><circle cx="830.5" cy="791.9" r="5.6" fill="#e07050" stroke="#f5d7cc" stroke-width="0.6"/><circle cx="722.2" cy="748.0" r="5.6" fill="#d6512f" stroke="#f5d7cc" stroke-width="0.6"/><circle cx="742.9" cy="757.7" r="5.6" fill="#d85a36" stroke="#f5d7cc" stroke-width="0.6"/><circle cx="726.8" cy="787.1" r="5.6" fill="#e0643e" stroke="#f5d7cc" stroke-width="0.6"/><line x1="733.4" y1="706" x2="733.4" y2="711" stroke="#777" stroke-width="1"/></svg>
<div class="t" style="left:428.5px;width:600px;text-align:center;top:695.3px;font-size:12.2px;color:#595959;font-weight:normal;font-style:normal;">Katie's Big Time Frozen Pepperoni Pizza</div>
<div class="t" style="right:978.7px;top:635.5px;font-size:12.4px;color:#595959;font-weight:normal;font-style:normal;font-family:'Liberation Mono',monospace;">10k</div>
<div class="t" style="right:978.7px;top:710.9px;font-size:12.4px;color:#595959;font-weight:normal;font-style:normal;font-family:'Liberation Mono',monospace;">5k</div>
<div class="t" style="right:978.7px;top:785.5px;font-size:12.4px;color:#595959;font-weight:normal;font-style:normal;font-family:'Liberation Mono',monospace;">0</div>
<div class="t" style="left:212.8px;width:600px;text-align:center;top:811.6px;font-size:12.4px;color:#595959;font-weight:normal;font-style:normal;font-family:'Liberation Mono',monospace;">0</div>
<div class="t" style="left:321.4px;width:600px;text-align:center;top:811.6px;font-size:12.4px;color:#595959;font-weight:normal;font-style:normal;font-family:'Liberation Mono',monospace;">5</div>
<div class="t" style="left:435.2px;width:600px;text-align:center;top:811.6px;font-size:12.4px;color:#595959;font-weight:normal;font-style:normal;font-family:'Liberation Mono',monospace;">10</div>
<div class="t" style="left:548.0px;width:600px;text-align:center;top:811.6px;font-size:12.4px;color:#595959;font-weight:normal;font-style:normal;font-family:'Liberation Mono',monospace;">15</div>
<div class="t" style="left:656.0px;width:600px;text-align:center;top:811.6px;font-size:12.4px;color:#595959;font-weight:normal;font-style:normal;font-family:'Liberation Mono',monospace;">20</div>
<div class="t" style="left:435.0px;width:600px;text-align:center;top:839.9px;font-size:12.4px;color:#404040;font-weight:normal;font-style:normal;">Avg Lead Time</div>
<div class="t" style="left:410.5px;top:709.2px;width:80px;text-align:center;font-size:12.4px;line-height:14px;color:#404040;transform:rotate(-90deg);">Inventory</div>
<div class="t" style="left:986.6px;top:204.9px;font-size:15px;color:#595959;font-weight:bold;font-style:normal;">Sales Quantity by Sales Rep *</div>
<div class="t" style="left:986.6px;top:226.6px;font-size:12.7px;color:#606060;font-weight:normal;font-style:normal;">colored by # of lost customers</div>
<svg style="left:0;top:0" width="1474" height="868"><rect x="992.0" y="257.5" width="152.3" height="137.2" fill="#fee1a8"/><rect x="992.0" y="395.9" width="152.3" height="102.7" fill="#3a87c8"/><rect x="1145.8" y="257.5" width="110.2" height="80.8" fill="#3a87c8"/><rect x="1145.8" y="339.5" width="110.2" height="81.2" fill="#fee1a8"/><rect x="1145.8" y="421.6" width="110.2" height="77.0" fill="#3a87c8"/><rect x="1257.5" y="257.5" width="116.0" height="67.5" fill="#fee1a8"/><rect x="1374.4" y="257.5" width="83.3" height="67.5" fill="#3a87c8"/><rect x="1257.5" y="326.4" width="47.4" height="63.9" fill="#3a87c8"/><rect x="1257.5" y="391.5" width="47.4" height="59.3" fill="#fee1a8"/><rect x="1257.5" y="452.3" width="47.4" height="46.3" fill="#3a87c8"/><rect x="1305.8" y="326.4" width="55.7" height="39.0" fill="#fee1a8"/><rect x="1362.4" y="326.4" width="52.5" height="39.0" fill="#fee1a8"/><rect x="1415.8" y="326.4" width="41.9" height="39.0" fill="#3a87c8"/><rect x="1305.8" y="366.3" width="34.2" height="36.3" fill="#3a87c8"/><rect x="1340.8" y="366.3" width="30.0" height="36.3" fill="#fee1a8"/><rect x="1372.0" y="366.6" width="27.9" height="35.0" fill="#3a87c8"/><rect x="1401.1" y="366.6" width="28.8" height="35.0" fill="#3a87c8"/><rect x="1430.8" y="366.6" width="26.9" height="35.0" fill="#3a87c8"/><rect x="1305.8" y="403.5" width="34.2" height="31.8" fill="#3a87c8"/><rect x="1305.8" y="436.3" width="34.2" height="31.3" fill="#3a87c8"/><rect x="1305.8" y="468.6" width="34.2" height="30.0" fill="#3a87c8"/><rect x="1340.8" y="403.5" width="30.0" height="31.1" fill="#fee1a8"/><rect x="1340.8" y="435.6" width="30.0" height="32.0" fill="#3a87c8"/><rect x="1340.8" y="468.6" width="30.0" height="30.0" fill="#d24c3a"/><rect x="1371.9" y="402.6" width="31.1" height="28.2" fill="#3a87c8"/><rect x="1404.2" y="402.6" width="27.2" height="28.2" fill="#3a87c8"/><rect x="1432.6" y="402.6" width="25.3" height="28.2" fill="#3a87c8"/><rect x="1371.9" y="431.9" width="22.9" height="24.7" fill="#3a87c8"/><rect x="1396.1" y="431.9" width="21.8" height="17.7" fill="#3a87c8"/><rect x="1418.8" y="431.9" width="20.7" height="17.7" fill="#d24c3a"/><rect x="1440.6" y="431.9" width="17.3" height="17.7" fill="#3a87c8"/><rect x="1371.9" y="457.4" width="23.4" height="23.8" fill="#fee1a8"/><rect x="1371.9" y="482.1" width="22.9" height="16.5" fill="#3a87c8"/><rect x="1396.1" y="450.7" width="17.3" height="16.2" fill="#3a87c8"/><rect x="1396.1" y="468.1" width="17.3" height="15.5" fill="#3a87c8"/><rect x="1396.1" y="484.5" width="17.3" height="14.1" fill="#fee1a8"/><rect x="1414.6" y="450.7" width="14.4" height="12.3" fill="#3a87c8"/><rect x="1430.1" y="450.7" width="13.6" height="12.3" fill="#3a87c8"/><rect x="1444.8" y="450.7" width="13.1" height="12.3" fill="#3a87c8"/><rect x="1414.6" y="464.4" width="12.2" height="11.6" fill="#3a87c8"/><rect x="1428.0" y="464.4" width="10.4" height="11.6" fill="#3a87c8"/><rect x="1439.5" y="464.4" width="9.2" height="11.6" fill="#3a87c8"/><rect x="1449.8" y="464.4" width="8.1" height="11.6" fill="#3a87c8"/><rect x="1414.6" y="477.2" width="12.2" height="10.9" fill="#3a87c8"/><rect x="1414.6" y="489.2" width="12.2" height="9.4" fill="#3a87c8"/><rect x="1428.0" y="477.2" width="8.2" height="10.5" fill="#3a87c8"/><rect x="1428.0" y="488.8" width="8.2" height="9.8" fill="#3a87c8"/><rect x="1437.3" y="477.2" width="10.5" height="6.6" fill="#3a87c8"/><rect x="1448.8" y="477.2" width="9.1" height="6.6" fill="#fee1a8"/><rect x="1437.3" y="484.7" width="8.1" height="7.1" fill="#fee1a8"/><rect x="1437.3" y="492.7" width="8.1" height="5.9" fill="#fee1a8"/><rect x="1446.4" y="484.7" width="3.2" height="4.0" fill="#3a87c8"/><rect x="1446.4" y="489.6" width="3.2" height="4.0" fill="#3a87c8"/><rect x="1446.4" y="494.6" width="3.2" height="4.0" fill="#fee1a8"/><rect x="1450.5" y="484.7" width="3.2" height="4.0" fill="#3a87c8"/><rect x="1450.5" y="489.6" width="3.2" height="4.0" fill="#3a87c8"/><rect x="1450.5" y="494.6" width="3.2" height="4.0" fill="#3a87c8"/><rect x="1454.7" y="484.7" width="3.2" height="4.0" fill="#3a87c8"/><rect x="1454.7" y="489.6" width="3.2" height="4.0" fill="#3a87c8"/><rect x="1454.7" y="494.6" width="3.2" height="4.0" fill="#3a87c8"/><rect x="992.0" y="502.0" width="168.2" height="75.3" fill="#3a87c8"/><rect x="992.0" y="578.6" width="67.5" height="65.6" fill="#fee1a8"/><rect x="1060.5" y="578.6" width="50.7" height="65.6" fill="#3a87c8"/><rect x="1112.3" y="578.6" width="47.9" height="65.6" fill="#fee1a8"/><rect x="992.0" y="645.3" width="56.9" height="49.9" fill="#3a87c8"/><rect x="1050.1" y="645.3" width="38.8" height="49.9" fill="#3a87c8"/><rect x="1090.0" y="645.3" width="36.1" height="49.9" fill="#3a87c8"/><rect x="1127.2" y="645.3" width="33.0" height="49.9" fill="#3a87c8"/><rect x="992.0" y="696.4" width="41.4" height="35.6" fill="#3a87c8"/><rect x="1034.6" y="696.4" width="35.4" height="35.2" fill="#3a87c8"/><rect x="1071.2" y="696.4" width="30.1" height="35.2" fill="#3a87c8"/><rect x="1102.4" y="696.4" width="29.0" height="35.2" fill="#fee1a8"/><rect x="1132.5" y="696.4" width="27.7" height="35.2" fill="#3a87c8"/><rect x="992.0" y="733.1" width="41.4" height="32.2" fill="#3a87c8"/><rect x="992.0" y="766.4" width="41.4" height="31.0" fill="#3a87c8"/><rect x="992.0" y="798.5" width="41.4" height="31.5" fill="#3a87c8"/><rect x="1034.6" y="732.7" width="27.0" height="31.1" fill="#3a87c8"/><rect x="1062.8" y="732.7" width="26.5" height="31.1" fill="#3a87c8"/><rect x="1090.4" y="732.7" width="23.4" height="31.1" fill="#3a87c8"/><rect x="1114.9" y="732.7" width="22.4" height="30.5" fill="#d24c3a"/><rect x="1138.4" y="732.7" width="21.8" height="30.5" fill="#fee1a8"/><rect x="1034.6" y="764.9" width="27.0" height="31.9" fill="#3a87c8"/><rect x="1034.6" y="797.9" width="27.0" height="32.1" fill="#3a87c8"/><rect x="1062.8" y="764.9" width="21.4" height="24.1" fill="#3a87c8"/><rect x="1062.8" y="790.0" width="21.4" height="20.4" fill="#fee1a8"/><rect x="1062.8" y="811.4" width="21.4" height="18.6" fill="#fee1a8"/><rect x="1085.3" y="764.9" width="16.3" height="20.4" fill="#3a87c8"/><rect x="1085.3" y="786.3" width="16.3" height="21.0" fill="#fee1a8"/><rect x="1085.3" y="808.3" width="16.3" height="21.7" fill="#3a87c8"/><rect x="1102.7" y="764.9" width="19.3" height="14.7" fill="#3a87c8"/><rect x="1123.1" y="764.9" width="19.1" height="14.7" fill="#fee1a8"/><rect x="1143.3" y="764.9" width="16.9" height="14.7" fill="#3a87c8"/><rect x="1102.7" y="780.7" width="16.2" height="16.1" fill="#fee1a8"/><rect x="1102.7" y="797.8" width="16.2" height="15.4" fill="#3a87c8"/><rect x="1102.7" y="814.2" width="16.2" height="15.8" fill="#3a87c8"/><rect x="1120.0" y="780.7" width="13.6" height="10.9" fill="#fee1a8"/><rect x="1134.6" y="780.7" width="12.7" height="10.9" fill="#3a87c8"/><rect x="1148.3" y="780.7" width="11.9" height="10.9" fill="#fee1a8"/><rect x="1119.9" y="792.7" width="10.5" height="11.6" fill="#3a87c8"/><rect x="1119.9" y="805.4" width="10.5" height="12.2" fill="#3a87c8"/><rect x="1119.9" y="818.7" width="10.5" height="11.3" fill="#3a87c8"/><rect x="1131.5" y="792.7" width="9.0" height="11.6" fill="#3a87c8"/><rect x="1131.5" y="805.4" width="9.0" height="9.2" fill="#3a87c8"/><rect x="1131.5" y="815.7" width="9.0" height="6.3" fill="#3a87c8"/><rect x="1131.5" y="823.1" width="9.0" height="6.9" fill="#3a87c8"/><rect x="1141.6" y="792.7" width="9.0" height="11.6" fill="#3a87c8"/><rect x="1151.7" y="792.7" width="8.5" height="11.6" fill="#fee1a8"/><rect x="1141.6" y="805.2" width="8.6" height="6.2" fill="#3a87c8"/><rect x="1151.3" y="805.2" width="8.9" height="6.2" fill="#3a87c8"/><rect x="1141.6" y="812.4" width="5.4" height="8.2" fill="#3a87c8"/><rect x="1141.6" y="821.7" width="5.4" height="8.3" fill="#3a87c8"/><rect x="1148.0" y="812.4" width="6.0" height="4.4" fill="#3a87c8"/><rect x="1148.0" y="817.8" width="6.0" height="5.2" fill="#3a87c8"/><rect x="1148.0" y="824.0" width="6.0" height="6.0" fill="#d24c3a"/><rect x="1155.0" y="812.4" width="5.2" height="4.4" fill="#3a87c8"/><rect x="1155.0" y="817.8" width="5.2" height="5.2" fill="#fee1a8"/><rect x="1155.0" y="824.0" width="5.2" height="6.0" fill="#3a87c8"/><rect x="1163.0" y="502.2" width="92.4" height="182.2" fill="#3a87c8"/><rect x="1256.7" y="502.2" width="67.4" height="68.8" fill="#3a87c8"/><rect x="1256.7" y="572.0" width="67.4" height="65.3" fill="#d24c3a"/><rect x="1256.7" y="638.3" width="67.4" height="46.1" fill="#3a87c8"/><rect x="1325.2" y="502.2" width="43.8" height="42.2" fill="#fee1a8"/><rect x="1370.1" y="502.2" width="43.5" height="42.2" fill="#3a87c8"/><rect x="1414.7" y="502.2" width="43.2" height="42.2" fill="#3a87c8"/><rect x="1325.2" y="545.5" width="41.5" height="39.8" fill="#3a87c8"/><rect x="1367.8" y="545.5" width="31.6" height="39.8" fill="#fee1a8"/><rect x="1400.5" y="545.5" width="28.1" height="39.8" fill="#3a87c8"/><rect x="1429.7" y="545.5" width="28.2" height="39.8" fill="#3a87c8"/><rect x="1325.2" y="586.3" width="30.9" height="33.0" fill="#3a87c8"/><rect x="1325.2" y="620.4" width="30.9" height="32.9" fill="#fee1a8"/><rect x="1325.2" y="654.3" width="30.9" height="30.1" fill="#3a87c8"/><rect x="1357.2" y="586.3" width="31.0" height="26.7" fill="#3a87c8"/><rect x="1357.2" y="614.1" width="31.0" height="24.0" fill="#3a87c8"/><rect x="1357.2" y="639.2" width="31.0" height="22.1" fill="#3a87c8"/><rect x="1357.2" y="662.4" width="31.0" height="22.0" fill="#3a87c8"/><rect x="1389.3" y="586.3" width="24.7" height="24.4" fill="#3a87c8"/><rect x="1415.1" y="586.3" width="22.5" height="24.4" fill="#fee1a8"/><rect x="1438.7" y="586.3" width="19.2" height="24.4" fill="#3a87c8"/><rect x="1389.3" y="611.8" width="22.9" height="19.0" fill="#3a87c8"/><rect x="1413.3" y="611.8" width="21.9" height="19.0" fill="#3a87c8"/><rect x="1436.3" y="611.8" width="21.6" height="19.0" fill="#3a87c8"/><rect x="1389.3" y="631.9" width="16.5" height="19.8" fill="#3a87c8"/><rect x="1389.3" y="652.8" width="16.5" height="18.0" fill="#3a87c8"/><rect x="1389.3" y="671.9" width="16.5" height="12.5" fill="#3a87c8"/><rect x="1406.9" y="631.9" width="16.5" height="11.7" fill="#3a87c8"/><rect x="1424.5" y="631.9" width="16.7" height="11.7" fill="#3a87c8"/><rect x="1442.3" y="631.9" width="15.6" height="11.7" fill="#3a87c8"/><rect x="1406.9" y="644.7" width="11.3" height="12.9" fill="#3a87c8"/><rect x="1406.9" y="658.7" width="11.3" height="12.9" fill="#3a87c8"/><rect x="1406.9" y="672.7" width="11.3" height="11.7" fill="#fee1a8"/><rect x="1419.3" y="644.7" width="13.3" height="8.7" fill="#3a87c8"/><rect x="1433.7" y="644.7" width="11.5" height="8.7" fill="#3a87c8"/><rect x="1446.3" y="644.7" width="11.6" height="8.7" fill="#3a87c8"/><rect x="1419.3" y="654.5" width="10.5" height="10.4" fill="#fee1a8"/><rect x="1419.3" y="666.0" width="10.5" height="9.4" fill="#3a87c8"/><rect x="1419.3" y="676.5" width="10.5" height="7.9" fill="#3a87c8"/><rect x="1430.9" y="654.5" width="8.4" height="6.8" fill="#3a87c8"/><rect x="1430.9" y="662.2" width="8.4" height="6.8" fill="#3a87c8"/><rect x="1430.9" y="669.9" width="8.4" height="6.8" fill="#3a87c8"/><rect x="1430.9" y="677.6" width="8.4" height="6.8" fill="#3a87c8"/><rect x="1440.2" y="654.5" width="8.4" height="6.8" fill="#3a87c8"/><rect x="1440.2" y="662.2" width="8.4" height="6.8" fill="#3a87c8"/><rect x="1440.2" y="669.9" width="8.4" height="6.8" fill="#3a87c8"/><rect x="1440.2" y="677.6" width="8.4" height="6.8" fill="#3a87c8"/><rect x="1449.5" y="654.5" width="8.4" height="6.8" fill="#3a87c8"/><rect x="1449.5" y="662.2" width="8.4" height="6.8" fill="#3a87c8"/><rect x="1449.5" y="669.9" width="8.4" height="6.8" fill="#3a87c8"/><rect x="1449.5" y="677.6" width="8.4" height="6.8" fill="#3a87c8"/><rect x="1163.1" y="687.7" width="65.0" height="48.9" fill="#3a87c8"/><rect x="1163.1" y="737.7" width="65.0" height="45.5" fill="#3a87c8"/><rect x="1163.1" y="784.3" width="65.0" height="44.7" fill="#3a87c8"/><rect x="1229.2" y="687.7" width="56.2" height="49.9" fill="#3a87c8"/><rect x="1229.2" y="738.7" width="56.2" height="49.9" fill="#3a87c8"/><rect x="1229.2" y="789.7" width="56.2" height="39.3" fill="#fee1a8"/><rect x="1286.5" y="687.7" width="55.8" height="36.2" fill="#fee1a8"/><rect x="1343.4" y="687.7" width="43.9" height="36.2" fill="#3a87c8"/><rect x="1388.4" y="687.7" width="42.7" height="36.2" fill="#3a87c8"/><rect x="1286.5" y="725.0" width="38.4" height="35.8" fill="#3a87c8"/><rect x="1286.5" y="761.9" width="38.4" height="35.9" fill="#3a87c8"/><rect x="1286.5" y="798.9" width="38.4" height="30.1" fill="#3a87c8"/><rect x="1326.0" y="725.0" width="41.9" height="26.7" fill="#3a87c8"/><rect x="1369.0" y="725.0" width="35.0" height="26.7" fill="#3a87c8"/><rect x="1405.1" y="725.0" width="26.0" height="26.7" fill="#3a87c8"/><rect x="1326.0" y="752.8" width="21.1" height="26.2" fill="#3a87c8"/><rect x="1326.0" y="780.1" width="21.1" height="25.9" fill="#3a87c8"/><rect x="1326.0" y="807.1" width="21.1" height="21.9" fill="#3a87c8"/><rect x="1348.2" y="752.8" width="20.6" height="21.0" fill="#3a87c8"/><rect x="1348.2" y="774.9" width="20.6" height="18.5" fill="#3a87c8"/><rect x="1348.2" y="794.5" width="20.6" height="17.5" fill="#3a87c8"/><rect x="1348.2" y="813.1" width="20.6" height="15.9" fill="#3a87c8"/><rect x="1369.9" y="752.8" width="15.9" height="18.4" fill="#fee1a8"/><rect x="1386.9" y="752.8" width="15.2" height="18.4" fill="#3a87c8"/><rect x="1403.2" y="752.8" width="14.4" height="18.4" fill="#3a87c8"/><rect x="1418.7" y="752.8" width="12.4" height="18.4" fill="#3a87c8"/><rect x="1369.9" y="772.3" width="14.8" height="14.3" fill="#3a87c8"/><rect x="1369.9" y="787.7" width="14.8" height="13.3" fill="#3a87c8"/><rect x="1369.9" y="802.1" width="14.8" height="13.0" fill="#3a87c8"/><rect x="1369.9" y="816.2" width="14.8" height="12.8" fill="#3a87c8"/><rect x="1385.8" y="772.3" width="15.0" height="11.7" fill="#3a87c8"/><rect x="1401.9" y="772.3" width="14.4" height="11.7" fill="#3a87c8"/><rect x="1417.4" y="772.3" width="13.7" height="11.7" fill="#fee1a8"/><rect x="1385.8" y="785.1" width="10.4" height="13.7" fill="#3a87c8"/><rect x="1385.8" y="799.9" width="10.4" height="15.1" fill="#3a87c8"/><rect x="1385.8" y="816.1" width="10.4" height="12.9" fill="#3a87c8"/><rect x="1397.3" y="785.1" width="10.3" height="12.5" fill="#3a87c8"/><rect x="1408.7" y="785.1" width="11.2" height="12.5" fill="#3a87c8"/><rect x="1421.0" y="785.1" width="10.1" height="12.5" fill="#fee1a8"/><rect x="1397.3" y="798.7" width="10.5" height="9.9" fill="#3a87c8"/><rect x="1397.3" y="809.6" width="10.5" height="9.4" fill="#3a87c8"/><rect x="1397.3" y="820.0" width="10.5" height="9.0" fill="#3a87c8"/><rect x="1408.9" y="798.7" width="7.6" height="7.3" fill="#3a87c8"/><rect x="1417.5" y="798.7" width="13.6" height="7.3" fill="#3a87c8"/><rect x="1408.9" y="807.0" width="7.6" height="8.0" fill="#3a87c8"/><rect x="1417.5" y="807.0" width="6.4" height="8.0" fill="#fee1a8"/><rect x="1424.9" y="807.0" width="6.2" height="8.0" fill="#fee1a8"/><rect x="1408.9" y="816.0" width="4.9" height="3.7" fill="#3a87c8"/><rect x="1408.9" y="820.6" width="4.9" height="3.7" fill="#3a87c8"/><rect x="1408.9" y="825.3" width="4.9" height="3.7" fill="#3a87c8"/><rect x="1414.7" y="816.0" width="4.9" height="3.7" fill="#3a87c8"/><rect x="1414.7" y="820.6" width="4.9" height="3.7" fill="#3a87c8"/><rect x="1414.7" y="825.3" width="4.9" height="3.7" fill="#3a87c8"/><rect x="1420.5" y="816.0" width="4.9" height="3.7" fill="#3a87c8"/><rect x="1420.5" y="820.6" width="4.9" height="3.7" fill="#3a87c8"/><rect x="1420.5" y="825.3" width="4.9" height="3.7" fill="#3a87c8"/><rect x="1426.2" y="816.0" width="4.9" height="3.7" fill="#3a87c8"/><rect x="1426.2" y="820.6" width="4.9" height="3.7" fill="#3a87c8"/><rect x="1426.2" y="825.3" width="4.9" height="3.7" fill="#3a87c8"/><rect x="1433.9" y="687.7" width="24.1" height="29.1" fill="#3a87c8"/><rect x="1433.9" y="717.9" width="24.1" height="21.9" fill="#3a87c8"/><rect x="1433.9" y="740.9" width="24.1" height="10.9" fill="#3a87c8"/><rect x="1433.9" y="752.9" width="11.7" height="16.9" fill="#3a87c8"/><rect x="1446.7" y="752.9" width="11.3" height="16.9" fill="#3a87c8"/><rect x="1433.9" y="770.9" width="11.7" height="14.9" fill="#3a87c8"/><rect x="1446.7" y="770.9" width="11.3" height="14.9" fill="#3a87c8"/><rect x="1433.9" y="786.9" width="14.9" height="10.2" fill="#3a87c8"/><rect x="1449.9" y="786.9" width="8.1" height="10.2" fill="#fee1a8"/><rect x="1433.9" y="798.2" width="9.5" height="7.9" fill="#fee1a8"/><rect x="1444.5" y="798.2" width="5.9" height="7.9" fill="#fee1a8"/><rect x="1451.5" y="798.2" width="6.5" height="7.9" fill="#3a87c8"/><rect x="1433.9" y="807.2" width="5.3" height="4.8" fill="#3a87c8"/><rect x="1433.9" y="812.9" width="5.3" height="4.8" fill="#3a87c8"/><rect x="1433.9" y="818.5" width="5.3" height="4.8" fill="#3a87c8"/><rect x="1433.9" y="824.2" width="5.3" height="4.8" fill="#3a87c8"/><rect x="1440.2" y="807.2" width="5.3" height="4.8" fill="#3a87c8"/><rect x="1440.2" y="812.9" width="5.3" height="4.8" fill="#3a87c8"/><rect x="1440.2" y="818.5" width="5.3" height="4.8" fill="#3a87c8"/><rect x="1440.2" y="824.2" width="5.3" height="4.8" fill="#3a87c8"/><rect x="1446.4" y="807.2" width="5.3" height="4.8" fill="#3a87c8"/><rect x="1446.4" y="812.9" width="5.3" height="4.8" fill="#3a87c8"/><rect x="1446.4" y="818.5" width="5.3" height="4.8" fill="#3a87c8"/><rect x="1446.4" y="824.2" width="5.3" height="4.8" fill="#3a87c8"/><rect x="1452.7" y="807.2" width="5.3" height="4.8" fill="#3a87c8"/><rect x="1452.7" y="812.9" width="5.3" height="4.8" fill="#3a87c8"/><rect x="1452.7" y="818.5" width="5.3" height="4.8" fill="#fee1a8"/><rect x="1452.7" y="824.2" width="5.3" height="4.8" fill="#3a87c8"/></svg>
<div class="t" style="left:996.4px;top:259.8px;font-size:12.6px;color:#404040;font-weight:normal;font-style:normal;">Karl Anderson</div>
<div class="t" style="left:1149.7px;top:259.8px;font-size:12.6px;color:#ffffff;font-weight:normal;font-style:normal;">Kathy Clinton</div>
<div class="t" style="left:1262.0px;top:259.8px;font-size:12.6px;color:#404040;font-weight:normal;font-style:normal;">David Howard</div>
<div class="t" style="left:1378.3px;top:259.8px;font-size:12.6px;color:#ffffff;font-weight:normal;font-style:normal;">Ronald</div>
<div class="t" style="left:1378.3px;top:275.3px;font-size:12.6px;color:#ffffff;font-weight:normal;font-style:normal;">Golinski</div>
<div class="t" style="left:1149.7px;top:342.7px;font-size:12.6px;color:#404040;font-weight:normal;font-style:normal;">Ronald Milam</div>
<div class="t" style="left:996.4px;top:398.1px;font-size:12.6px;color:#ffffff;font-weight:normal;font-style:normal;">Amalia Craig</div>
<div class="t" style="left:1149.7px;top:424.5px;font-size:12.6px;color:#ffffff;font-weight:normal;font-style:normal;">Don Simmons</div>
<div class="t" style="left:996.8px;top:504.8px;font-size:12.6px;color:#ffffff;font-weight:normal;font-style:normal;">Donna Brown</div>
<div class="t" style="left:1167.4px;top:505.0px;font-size:12.6px;color:#ffffff;font-weight:normal;font-style:normal;">TAGnology</div>
<div class="t" style="left:1261.0px;top:505.0px;font-size:12.6px;color:#ffffff;font-weight:normal;font-style:normal;">Donna</div>
<div class="t" style="left:1261.0px;top:520.4px;font-size:12.6px;color:#ffffff;font-weight:normal;font-style:normal;">Brown</div>
<div class="t" style="left:1083.5px;top:349.7px;font-size:47.9px;color:#ddd;font-weight:bold;font-style:normal;color:rgba(236,236,236,0.47);-webkit-text-stroke:1.2px rgba(100,100,100,0.68);transform-origin:0 0;transform:scaleX(0.898);">Frozen Foods</div>
<div class="t" style="left:1248.5px;top:574.1px;font-size:32.7px;color:#ddd;font-weight:bold;font-style:normal;color:rgba(236,236,236,0.47);-webkit-text-stroke:1.2px rgba(100,100,100,0.68);transform-origin:0 0;transform:scaleX(0.933);">Produce</div>
<div class="t" style="left:1028.2px;top:623.9px;font-size:33.5px;color:#ddd;font-weight:bold;font-style:normal;color:rgba(236,236,236,0.47);-webkit-text-stroke:1.2px rgba(100,100,100,0.68);transform-origin:0 0;transform:scaleX(0.955);">Snack</div>
<div class="t" style="left:1030.5px;top:667.8px;font-size:33.1px;color:#ddd;font-weight:bold;font-style:normal;color:rgba(236,236,236,0.47);-webkit-text-stroke:1.2px rgba(100,100,100,0.68);transform-origin:0 0;transform:scaleX(0.909);">Foods</div>
<div class="t" style="left:1214.8px;top:742.2px;font-size:26.8px;color:#ddd;font-weight:bold;font-style:normal;color:rgba(236,236,236,0.47);-webkit-text-stroke:1.2px rgba(100,100,100,0.68);transform-origin:0 0;transform:scaleX(0.945);">Baked Goods</div>
<div class="t" style="left:987.8px;top:843.6px;font-size:13.6px;color:#6a6a6a;font-weight:normal;font-style:italic;">* The data set contains negative or zero values that cannot be shown in this ...</div>
<div style="position:absolute;left:0;top:0;width:1474px;height:868px;box-sizing:border-box;border:2px solid #c7c8ca;border-radius:7px 7px 0 0;pointer-events:none;"></div>
</body></html>
